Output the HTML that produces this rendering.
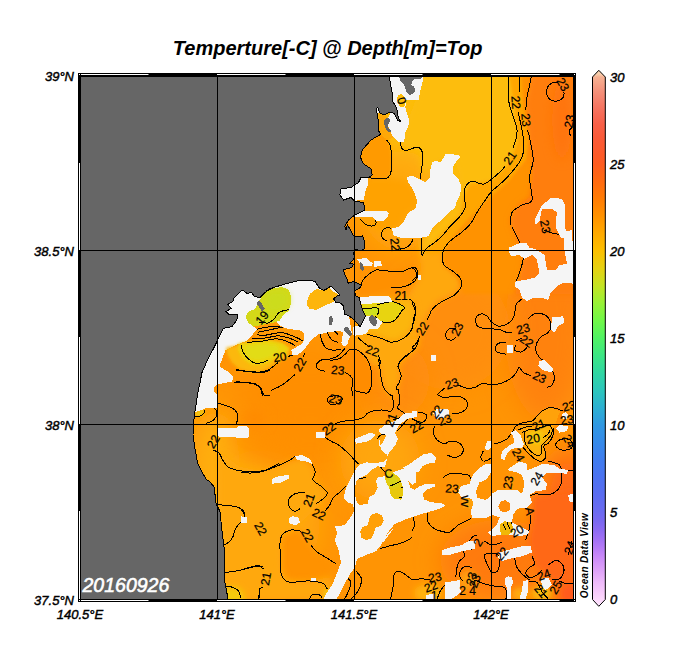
<!DOCTYPE html>
<html><head><meta charset="utf-8"><title>Temperture @ Depth=Top</title>
<style>
html,body{margin:0;padding:0;background:#fff;}
body{width:684px;height:660px;position:relative;overflow:hidden;font-family:"Liberation Sans",sans-serif;}
</style></head><body>
<svg width="684" height="660" viewBox="0 0 684 660" style="position:absolute;left:0;top:0">
<defs>
<clipPath id="pc"><rect x="81" y="77" width="492" height="522"/></clipPath>
<filter id="b12" x="-50%" y="-50%" width="200%" height="200%"><feGaussianBlur stdDeviation="12"/></filter>
<filter id="b6" x="-50%" y="-50%" width="200%" height="200%"><feGaussianBlur stdDeviation="6"/></filter>
<filter id="b3" x="-50%" y="-50%" width="200%" height="200%"><feGaussianBlur stdDeviation="3"/></filter>
<filter id="b2" x="-50%" y="-50%" width="200%" height="200%"><feGaussianBlur stdDeviation="1.6"/></filter>
<linearGradient id="cb" gradientUnits="userSpaceOnUse" x1="0" y1="606.3" x2="0" y2="70.3">
<stop offset="0.0000" stop-color="#fee6fe"/>
<stop offset="0.0127" stop-color="#fcd8fc"/>
<stop offset="0.0289" stop-color="#f6c8fb"/>
<stop offset="0.0452" stop-color="#eebafa"/>
<stop offset="0.0614" stop-color="#e2a8f8"/>
<stop offset="0.0777" stop-color="#d698f8"/>
<stop offset="0.0939" stop-color="#c888f8"/>
<stop offset="0.1102" stop-color="#b47af6"/>
<stop offset="0.1264" stop-color="#a070f4"/>
<stop offset="0.1427" stop-color="#8c6af2"/>
<stop offset="0.1589" stop-color="#7a68f0"/>
<stop offset="0.1752" stop-color="#6c6af0"/>
<stop offset="0.2077" stop-color="#5a6cf0"/>
<stop offset="0.2402" stop-color="#4c72f0"/>
<stop offset="0.2727" stop-color="#407cee"/>
<stop offset="0.3052" stop-color="#368aea"/>
<stop offset="0.3377" stop-color="#3098e2"/>
<stop offset="0.3702" stop-color="#2cb0d2"/>
<stop offset="0.4027" stop-color="#2cc6bc"/>
<stop offset="0.4352" stop-color="#30d6a2"/>
<stop offset="0.4677" stop-color="#3ce684"/>
<stop offset="0.5002" stop-color="#50f264"/>
<stop offset="0.5327" stop-color="#70f848"/>
<stop offset="0.5652" stop-color="#98f236"/>
<stop offset="0.5977" stop-color="#c4e424"/>
<stop offset="0.6302" stop-color="#e6d212"/>
<stop offset="0.6627" stop-color="#fcc000"/>
<stop offset="0.6952" stop-color="#ffaa00"/>
<stop offset="0.7277" stop-color="#ff9200"/>
<stop offset="0.7602" stop-color="#ff7c04"/>
<stop offset="0.7927" stop-color="#ff6a10"/>
<stop offset="0.8252" stop-color="#fe5c20"/>
<stop offset="0.8414" stop-color="#fd5a28"/>
<stop offset="0.8739" stop-color="#fa5a38"/>
<stop offset="0.8999" stop-color="#f86048"/>
<stop offset="0.9194" stop-color="#f66c58"/>
<stop offset="0.9389" stop-color="#f57c68"/>
<stop offset="0.9601" stop-color="#f4907a"/>
<stop offset="0.9779" stop-color="#f5a68a"/>
<stop offset="0.9877" stop-color="#f6b294"/>
<stop offset="0.9916" stop-color="#f8caa8"/>
<stop offset="1.0004" stop-color="#f8d6b4"/>
</linearGradient>
</defs>
<rect width="684" height="660" fill="#ffffff"/>
<g clip-path="url(#pc)">
<rect x="79" y="74" width="496" height="526" fill="#ff9404"/>
<ellipse cx="440" cy="130" rx="75" ry="90" fill="#fdbb0c" filter="url(#b12)"/>
<ellipse cx="470" cy="100" rx="50" ry="60" fill="#fcc010" filter="url(#b12)"/>
<ellipse cx="400" cy="200" rx="40" ry="50" fill="#ffa808" filter="url(#b12)"/>
<ellipse cx="560" cy="180" rx="40" ry="130" fill="#ff7810" filter="url(#b12)"/>
<ellipse cx="545" cy="330" rx="40" ry="90" fill="#ff820c" filter="url(#b12)"/>
<ellipse cx="568" cy="530" rx="30" ry="80" fill="#ff6814" filter="url(#b12)"/>
<ellipse cx="500" cy="560" rx="60" ry="40" fill="#ff7a10" filter="url(#b12)"/>
<ellipse cx="450" cy="330" rx="60" ry="60" fill="#ff8e08" filter="url(#b12)"/>
<ellipse cx="390" cy="380" rx="40" ry="40" fill="#ff8c08" filter="url(#b12)"/>
<ellipse cx="260" cy="520" rx="60" ry="70" fill="#ffa80a" filter="url(#b12)"/>
<ellipse cx="218" cy="545" rx="18" ry="40" fill="#ffac0c" filter="url(#b6)"/>
<ellipse cx="232" cy="596" rx="14" ry="10" fill="#f4cc0c" filter="url(#b3)"/>
<polygon points="216.1,504.6 228.9,505.6 238.7,507.6 243.7,511.5 244.6,517.4 238.7,524.3 234.8,530.2 232.8,537.1 228.9,542 224,545 222,531.2 220,511.5" fill="#fbb60c" filter="url(#b2)"/>
<polygon points="301,531.2 291,530 282.2,535 279.8,545 281,557.5 280.5,570 283.5,578.8 291,582.5 301,581.2 313.5,581.2 323.5,583.8 336,563.8 326,558.8 316,552.5 311,545" fill="#ff9204" filter="url(#b3)"/>
<ellipse cx="215" cy="470" rx="25" ry="60" fill="#ffae0c" filter="url(#b12)"/>
<ellipse cx="300" cy="440" rx="60" ry="30" fill="#ff9004" filter="url(#b12)"/>
<ellipse cx="310" cy="395" rx="70" ry="40" fill="#ff8e02" filter="url(#b12)"/>
<ellipse cx="380" cy="460" rx="40" ry="40" fill="#ffa60a" filter="url(#b12)"/>
<polygon points="195.2,412.5 199.3,410 204.3,410 204.3,413 201,415.8 195.2,416.7" fill="#f0c80a" filter="url(#b2)"/>
<ellipse cx="254" cy="419" rx="12" ry="8" fill="#ff8a04" filter="url(#b6)"/>
<polygon points="417.2,239.5 442.6,239.5 442.6,250 441.7,258.8 448.7,267.5 457.5,276.3 461,283.3 457.5,292.1 448.7,296.5 438.2,300.9 431.2,307.9 425.9,317.5 421.5,325.4 418.9,337.7 418,344.7 413.6,350 406.6,355.3 400.5,360.5 397.9,365.8 371.5,365.8 364.5,355.3 354,348.2 354,327.2 367.2,334.2 390.8,342.1 406.6,336 415.4,320.2 414.5,302.6 406.6,297.4 418.9,278.1 420.7,267.5" fill="#ffa808" filter="url(#b3)"/>
<polygon points="357.5,300.9 406.6,297.4 414.5,302.6 415.4,320.2 411.9,328.9 406.6,336 399.6,340.4 390.8,342.1 382.1,338.6 373.3,336 367.2,334.2 357.5,327.2" fill="#fcb60c" filter="url(#b3)"/>
<polygon points="359.3,288.6 364.5,278.1 375.1,270.2 389.1,271.1 403.1,268.4 413.6,266.7 416.8,272.8 412.8,279.8 404.9,284.2 396.1,286.8 387.3,289.5 371.5,293 359.3,293.9" fill="#ff9002" filter="url(#b2)"/>
<polygon points="365.5,177.7 390.1,177.7 407.6,181.2 415.5,192.6 417.3,201.4 415.5,208.4 407.6,213.7 398.9,226.8 390.1,229.5 381.3,233 362,224.2 360.3,210.2 363.8,192.6" fill="#ffa206" filter="url(#b3)"/>
<polygon points="358.5,133 384.8,133.9 390.1,145.3 391.5,157.5 391,171.6 387.5,177.7 377.8,178.9 369,177.7 363.8,169.8 358.5,157.5" fill="#ff9a04" filter="url(#b2)"/>
<ellipse cx="428" cy="593" rx="14" ry="9" fill="#ffb20c" filter="url(#b3)"/>
<ellipse cx="468" cy="580" rx="8" ry="10" fill="#ffa208" filter="url(#b3)"/>
<ellipse cx="542" cy="593" rx="10" ry="7" fill="#f8c010" filter="url(#b3)"/>
<ellipse cx="520" cy="594" rx="8" ry="6" fill="#ffb010" filter="url(#b3)"/>
<polygon points="423.3,70.7 510,70.7 510,77.3 515,107.3 520,140.7 510,164 493.3,180.7 470,184 463.3,197.3 461.7,214 443.3,234 423.3,254 421.7,240.7 430,230.7 446.7,214 458.3,197.3 460,174 453.3,157.3 440,159 423.3,174 420,150.7 401.7,145.7 406.7,124 416.7,97.3" fill="#fdbd0c" filter="url(#b3)"/>
<polygon points="510,70.7 521.7,70.7 521.7,77.3 525,107.3 530,140.7 526.7,160.7 510,180.7 490,197.3 470,217.3 453.3,237.3 443.3,254 423.3,254 443.3,234 461.7,214 463.3,197.3 470,184 493.3,180.7 510,164 520,140.7 515,107.3 510,77.3" fill="#ffa606" filter="url(#b2)"/>
<polygon points="521.7,70.7 531.7,70.7 531.7,77.3 526.7,104 530,134 533.3,174 530,197.3 516.7,207.3 510,220.7 516.7,240.7 523.3,260.7 520,280.7 513.3,294 463.3,294 456.7,277.3 445,267.3 443.3,254 453.3,237.3 470,217.3 490,197.3 510,180.7 526.7,160.7 530,140.7 525,107.3 521.7,77.3" fill="#ff9206" filter="url(#b2)"/>
<polygon points="531.7,70.7 583.3,70.7 583.3,294 513.3,294 520,280.7 523.3,260.7 516.7,240.7 510,220.7 516.7,207.3 530,197.3 533.3,174 530,134 526.7,104 531.7,77.3" fill="#ff7e0c" filter="url(#b3)"/>
<ellipse cx="562" cy="120" rx="10" ry="40" fill="#ff7408" filter="url(#b6)"/>
<polygon points="330,360.3 339.1,358.8 345.2,354.2 349.7,349.7 355,349.4 360.3,352 366.4,358 370.2,366.4 371.7,377 370.9,387.6 367.1,392.9 360.3,392.1 354.2,390.6 352.7,386.1 353,378.5 349.7,374.7 339.1,372.4 330,373.9" fill="#ff8c02" filter="url(#b2)"/>
<polygon points="378.5,358.8 380,369.4 381.5,380 384.5,389.1 390.6,395.2 393.6,401.2 397.4,395.2 395.9,388.3 398.9,383 401.2,375.5 398.2,366.4 401.2,360.3 408.8,354.2 416.4,346.7 418.6,339.1 405.8,337.6 398.2,342.1 390.6,343.6 378.5,337.6 367.9,333.8 364.8,343.6 372.4,349.7" fill="#ffa808" filter="url(#b3)"/>
<polygon points="218.3,451.7 240,466.7 266.7,471.7 290,461.7 303.3,458.3 313.3,468.3 315,480 326.7,493.3 321.7,503.3 300,523.3 280,536.7 280,566.7 286.7,580 306.7,581.7 330,576.7 333.3,600 220,600 223.3,546.7 218.3,513.3" fill="#ffa80a" filter="url(#b3)"/>
<ellipse cx="232" cy="596" rx="12" ry="9" fill="#f4cc0c" filter="url(#b3)"/>
<polygon points="532.2,497 560.1,492.2 577.1,488.5 577.1,575.9 560.1,585.6 548,575.9 535.8,566.2 532.2,554.1 528.5,541.9 532.2,520.1" fill="#ff6812" filter="url(#b3)"/>
<ellipse cx="570" cy="594" rx="10" ry="10" fill="#ff5a1c" filter="url(#b3)"/>
<polygon points="323.5,591.2 328.5,587 333,593.8 331.5,600 323.5,600" fill="#f8c010" filter="url(#b2)"/>
<polygon points="387.7,76.3 423.6,76.3 422.3,82.6 420.4,90.1 418.6,99.6 406.6,99.6 405.3,107.7 408.5,117.8 408.5,125.3 405.3,132.9 404.1,141.7 398.4,141.7 392.8,136.7 389.6,130.4 387.7,125.3 387.7,117.8 390.5,113.4 387.7,112.5 387.7,82.6" fill="#f5f5f5" shape-rendering="crispEdges"/>
<polygon points="376.7,107.7 378.3,107.2 379.7,113 377.4,113" fill="#f5f5f5" shape-rendering="crispEdges"/>
<polygon points="445.4,153.7 458.5,154.9 460.3,156.7 455.9,161.9 453.2,166.3 453.2,174.2 458.5,179.5 461.1,185.6 460.3,194.4 456.8,201.4 455,207.5 449.7,211.9 444.5,217.2 437.5,223.3 432.2,228.6 428.7,235.6 425.2,237.4 402.4,238.2 393.6,235.6 391.8,228.6 398.9,226.8 403.2,222.5 406.8,215.4 409.4,211.9 415.5,208.4 417.3,201.4 414.6,193.5 411.1,186.5 407.6,181.2 407.3,176.8 412.9,176 419.9,179.5 425.2,182.1 429.6,177.7 430.4,169.8 432.2,161.9 435.7,161.1 441,161.9 443.6,157.5" fill="#f5f5f5" shape-rendering="crispEdges"/>
<polygon points="355,211.1 386.6,211.1 388.7,213.7 387.5,217.2 383.9,220.7 376.1,220.7 372.5,217.2 355,217.2" fill="#f5f5f5" shape-rendering="crispEdges"/>
<polygon points="337.5,176.8 367.3,176.8 368.2,183.9 365.5,190.9 363.8,199.6 337.5,203.2" fill="#f5f5f5" shape-rendering="crispEdges"/>
<polygon points="550.8,197.5 562,198.8 565,205 565,225 566.5,237.5 560.8,237.5 556.5,228.8 555.8,220 557,212.5 552,208.8 542,208.8 540.8,215 539.5,221.2 535.8,225 534.5,220 537,215 542,205 547,201.2" fill="#f5f5f5" shape-rendering="crispEdges"/>
<polygon points="509.5,247.5 517,243.8 525.8,242.5 529.5,247.5 537,250 544.5,255 547,270 555.8,270 559.5,265 567,263.8 566,258.2 564.2,250 564.2,231.8 572,230 574.5,283.8 564.5,282.5 557,286.2 550.8,292.5 548.2,300 542,297.5 534.5,297.5 527,301.2 522,297.5 519.5,290 514.5,286.2 515.8,281.2 524.5,280 534.5,277.5 539.5,272.5 537,260 532,255 524.5,258.8 519.5,255 510.8,256.2 509,251.2" fill="#f5f5f5" shape-rendering="crispEdges"/>
<polygon points="552,317.5 563.2,316.2 564.5,322.5 558.2,326.2 554.5,332.5 550.8,330" fill="#f5f5f5" shape-rendering="crispEdges"/>
<polygon points="539.5,361.2 544.5,360 553.2,368.8 552,372.5 542,370 538.2,366.2" fill="#f5f5f5" shape-rendering="crispEdges"/>
<polygon points="430.8,355 436.2,355 436.2,361.2 430.8,361.2" fill="#f5f5f5" shape-rendering="crispEdges"/>
<polygon points="417.5,275 420.8,275 420.8,279.5 417.5,279.5" fill="#f5f5f5" shape-rendering="crispEdges"/>
<polygon points="507,345 513.2,345 513.2,352.5 507,352.5" fill="#f5f5f5" shape-rendering="crispEdges"/>
<polygon points="412,230 428.2,230 428.2,236.2 412,236.2" fill="#f5f5f5" shape-rendering="crispEdges"/>
<polygon points="433.2,413.8 437,408.8 448.2,408.8 449.5,413.8 444.5,417.5 435.8,418.8" fill="#f5f5f5" shape-rendering="crispEdges"/>
<polygon points="412,411.2 417,411.2 417,416.2 412,416.2" fill="#f5f5f5" shape-rendering="crispEdges"/>
<polygon points="484.5,464.5 492,463.8 492.5,470 487,478.8 479.5,482.5 475.8,491.2 477.5,498 485.8,500 492,495 492,515 487,517.5 472,518 470.8,510 473.2,505 472,498.8 462,497.5 458.2,492.5 460.8,486.2 469.5,483.8 472,476.2 477,470" fill="#f5f5f5" shape-rendering="crispEdges"/>
<polygon points="492,493.8 498.2,490 517,490 522,493.8 524.5,483.8 522,475 517,472.5 507,470 512,466.2 519.5,461.2 527,463.8 527,470 534.5,467.5 542,463.8 554.5,465 559.5,468.8 568.2,470 567,473.8 559.5,473 547,472.5 542,477.5 547,483.8 545.8,490 535.8,491.2 529.5,495 532,502.5 527,507.5 517,508.8 513.2,515 512,522.5 522,527.5 529.5,531.2 527,535 517,536.2 509.5,535 499.5,535 492,536.2 488.2,532.5 497,525 499.5,517.5 492,515" fill="#f5f5f5" shape-rendering="crispEdges"/>
<polygon points="484.5,448.8 487,441.2 492,441.2 492,447.5 487,450.5" fill="#f5f5f5" shape-rendering="crispEdges"/>
<polygon points="510.8,432.5 515.8,430 522,436.2 525.8,441.2 522,447.5 512,448.8 507,453.8 504.5,460 500.8,458.8 502,451.2 508.2,446.2 514.5,442.5 513.2,436.2" fill="#f5f5f5" shape-rendering="crispEdges"/>
<polygon points="555.8,428.8 559.5,425 568.2,426.2 567,431.2 559.5,432.5" fill="#f5f5f5" shape-rendering="crispEdges"/>
<polygon points="562,413.8 565.8,412 568.2,415 567,418.8 563.2,418.8" fill="#f5f5f5" shape-rendering="crispEdges"/>
<polygon points="568.2,495 573.2,493.8 573.2,502.5 569.5,501.2" fill="#f5f5f5" shape-rendering="crispEdges"/>
<polygon points="442,550 449.5,547.5 462,545 468.2,541.2 475.8,541.2 474.5,548.8 462,551.2 449.5,555 442.5,555" fill="#f5f5f5" shape-rendering="crispEdges"/>
<polygon points="499.5,552.5 512,548.8 522,546.2 530.8,546.2 532,552.5 522,556.2 509.5,558.8 502,561.2 498.2,557.5" fill="#f5f5f5" shape-rendering="crispEdges"/>
<polygon points="444.5,582.5 459.5,580 460.8,592.5 452,598.8 444.5,598.8" fill="#f5f5f5" shape-rendering="crispEdges"/>
<polygon points="425.8,595 434.5,593.8 434.5,598.8 425.8,598.8" fill="#f5f5f5" shape-rendering="crispEdges"/>
<polygon points="504.5,578.8 508.2,576.2 512,577.5 513.2,582.5 510.8,587.5 510.8,598.8 507,598.8 507,587.5 504.5,583.8" fill="#f5f5f5" shape-rendering="crispEdges"/>
<polygon points="523.2,581.2 528.2,580 528.2,590 525.8,598.8 519.5,598.8 522,590" fill="#f5f5f5" shape-rendering="crispEdges"/>
<polygon points="540.8,578.8 548.2,577.5 552,585 545.8,590 542,586.2" fill="#f5f5f5" shape-rendering="crispEdges"/>
<polygon points="379.5,440 380,446.1 382.1,450.9 386.5,454.4 386.5,459.3 383,461.9 375.1,463.2 366.3,462.3 359.3,464.6 354,471.6 349.6,480.4 344.9,490.9 343.9,497.9 347.9,502.3 352.6,504.4 354.9,510.2 350.5,517.2 345.3,524.2 340,526.3 334.8,526.2 337.2,532.5 334.8,540 338.5,550 341,562.5 337.2,572.5 332.2,585 326,593.8 323.5,600 336,600 341,591.2 346,581.2 351,572.5 354.8,567.5 357.2,558.8 366,555 376,551.2 381,545 388.5,532.5 396,525 381.2,545.3 387.4,533 394.4,524.2 406.7,518.9 422.5,513.7 438.2,509.3 445.3,505.8 441.8,503.2 431.2,502.3 424.2,499.6 422.5,494.4 426,490 434.7,486.5 434.7,483.9 426,483.9 418.9,486.5 414.6,490 410.2,487.4 408.4,481.2 410.2,474.2 418.9,471.6 422.5,466.3 427.7,463.7 434.7,462.8 436.1,457.5 431.2,453.2 424.2,454 417.2,458.4 410.2,463.7 404.9,468.1 397.9,470.7 391.8,472.5 399.6,477.7 403.2,487.4 402.3,498.8 400.5,499.6 394.4,498.8 390.9,495.3 389.1,487.4 386.5,483 384.7,476 377.7,477.7 376,481.2 377.7,487.4 374.2,494.4 368.9,497 368.1,504 359.3,504.9 355.8,500.5 354.9,490.9 355.8,482.1 360.2,477.7 366.3,475.1 371.6,469.8 377.7,466.3 384.7,467.2 387,459.6 387.7,454.9 390.9,450.5 395.3,445.3 397,440 398.3,440 395,433.3 398.3,426 406.7,419 417.3,416.7 416.7,412.7 405,413.3 396.7,420 385,425 378.3,430 380,433.3 386.7,435 383.3,441.7 379.3,446.7" fill="#f5f5f5" shape-rendering="crispEdges"/>
<polygon points="354.8,438.8 371,432.5 376,435 368.5,441.2 356,443.8" fill="#f5f5f5" shape-rendering="crispEdges"/>
<polygon points="403.5,467.5 412,462.5 416,462.5 416,482.5 412,485 407.2,480 404.8,473.8" fill="#f5f5f5" shape-rendering="crispEdges"/>
<polygon points="316,432 324.8,432 324.8,437.5 316,437.5" fill="#f5f5f5" shape-rendering="crispEdges"/>
<polygon points="294.8,456.2 302.2,455 309.8,458.8 312.2,463.8 304.8,461.2 297.2,460" fill="#f5f5f5" shape-rendering="crispEdges"/>
<polygon points="272.2,478.8 278.5,476.2 288.5,475 288.5,478.8 281,482.5 272.2,483.8" fill="#f5f5f5" shape-rendering="crispEdges"/>
<polygon points="288.5,518.8 292.2,516.2 298.5,517.5 299.8,522.5 296,525 289.8,523.8" fill="#f5f5f5" shape-rendering="crispEdges"/>
<polygon points="241,516.2 247.2,517.5 247.2,522.5 241,522.5" fill="#f5f5f5" shape-rendering="crispEdges"/>
<polygon points="311,577.5 316,577.5 316,581.2 311,581.2" fill="#f5f5f5" shape-rendering="crispEdges"/>
<polygon points="217.7,428.3 236,428.3 237.7,426.3 246.8,426.3 249.3,428.3 249.3,436.7 247.7,438.3 237.7,438.3 234.3,436.7 219.3,436.7 217.7,435" fill="#f5f5f5" shape-rendering="crispEdges"/>
<polygon points="189.3,345 220,345 219.7,366.7 229.3,372.5 233.5,376.7 231.8,381.7 217.7,384.2 214.3,386.7 214.3,391.7 216.8,394.2 216.8,407.5 206,408.3 196.8,411.7 189.3,411.7" fill="#f5f5f5" shape-rendering="crispEdges"/>
<polygon points="214.9,276.5 341.3,276.5 341.3,290.5 351.8,297.5 348.3,311.6 351.8,332.6 348.3,340.5 348.3,344 343.9,346.7 341.3,343.2 343,332.6 339.5,330.9 330.7,331.8 318.5,334.4 311.4,339.6 306.2,346.7 302.7,351.1 297.4,354.6 292.1,354.6 291.3,350.2 295.6,347.5 301.8,344 304.4,339.6 303.5,332.6 299.2,330 288.6,329.1 281.6,326.5 276.4,322.1 253.5,326.5 257.1,329.1 253.5,333.5 248.3,339.6 243,342.3 236,344.9 225.5,350.2 214.9,378.2" fill="#f5f5f5" shape-rendering="crispEdges"/>
<polygon points="276.7,339.6 282,338.2 283.7,341.4 279,343.5 276.4,342.3" fill="#f5f5f5" shape-rendering="crispEdges"/>
<polygon points="357.3,259.5 365.5,257.7 372.7,263.2 371.8,265.9 363.6,265.9 359.1,262.3" fill="#f5f5f5" shape-rendering="crispEdges"/>
<polygon points="373.6,261.4 380.9,260.5 381.8,265.9 374.5,266.8" fill="#f5f5f5" shape-rendering="crispEdges"/>
<polygon points="359.1,296.8 389.1,295.9 392.7,301.4 387.3,304.1 361.8,305" fill="#f5f5f5" shape-rendering="crispEdges"/>
<polygon points="363.6,312.3 374.5,310.5 380.9,315.9 381.8,323.2 378.2,328.6 369.1,329.5 365.5,334.1 353.6,335.9 352.7,326.8 361.8,325" fill="#f5f5f5" shape-rendering="crispEdges"/>
<polygon points="347.3,246.5 356.4,246.5 356.4,250.5 347.3,250.5" fill="#f5f5f5" shape-rendering="crispEdges"/>
<polygon points="398.4,95.2 401.6,93.9 404.7,97 406,102.1 404.1,106.5 400.3,107.1 397.8,103.3 397.2,98.3" fill="#fdbe08" shape-rendering="crispEdges"/>
<polygon points="379.6,114 384,115.3 387.7,117.8 387.7,125.3 390.3,131.6 393.4,137.3 387.7,140.4 380.8,134.2 378.3,130.4 378.3,120.3" fill="#ffa808" shape-rendering="crispEdges"/>
<polygon points="245.6,316.8 248.3,311.6 255.3,308.9 258.8,301.1 264.1,294 271.1,288.8 281.6,287 288.6,289.6 290.7,295.8 291.3,302.8 288.6,310.7 283.4,315.1 279.9,320.4 271.1,323.9 260.6,326.5 253.5,326.5 248.3,323" fill="#d4d818" shape-rendering="crispEdges"/>
<polygon points="267.6,292.3 279.9,289.6 287.8,293.2 288.6,302.8 283.4,309.8 274.6,313.3 267.6,311.6 264.1,302.8" fill="#ccdc1c" filter="url(#b3)"/>
<polygon points="253.5,326.5 276.4,322.1 281.6,326.5 288.6,329.1 299.2,330 303.5,332.6 304.4,339.6 301.8,344 295.6,347.5 291.3,350.2 279.9,353.7 262.3,346.7 253.5,333.5 257.1,329.1" fill="#ff9a08" shape-rendering="crispEdges"/>
<polygon points="226.1,347.8 240.7,344.9 253.9,341.9 268.5,341.9 280.2,344.1 288.9,349.2 288.9,356.5 274.3,363.9 268.5,368.2 259.7,371.9 249.5,371.9 239.2,369 231.9,362.4 227.5,355.1" fill="#fcb808" filter="url(#b2)"/>
<polygon points="238.4,343.5 253.1,341.3 270.4,340 282.4,343.1 290.1,348.4 284.1,353.5 277.3,357 270.4,361.2 261.8,364.7 251.4,364.7 242.7,358.6 238.4,350.8" fill="#ecd410" filter="url(#b2)"/>
<polygon points="245.4,346.2 260,344.3 274.6,345.1 280.2,348.9 271.1,356.3 260,359.8 250.9,358.9 245.4,353.5" fill="#e2dc14" filter="url(#b2)"/>
<polygon points="307.1,301.1 309.7,294 316.7,288.8 322,290.5 327.2,286.1 331.6,290.5 337.8,294 336,297.5 333.4,301.9 327.2,304.6 322,307.2 316.7,309.8 309.7,308.9 307.1,305.4" fill="#fdb50c" shape-rendering="crispEdges"/>
<polygon points="361.9,304.4 392.6,301.8 404,307 401.4,311.4 393.5,321.1 382.1,321.9 375.1,316.7 364.5,315.8 361.9,309.6" fill="#e8d410" shape-rendering="crispEdges"/>
<polygon points="362.8,308.8 377.7,308.2 377.7,314.6 364.5,315.3" fill="#cfe01e" shape-rendering="crispEdges"/>
<polygon points="386.5,470.7 392.6,472.5 399.6,477.7 403.2,487.4 402.3,498.8 400.5,499.6 394.4,498.8 390.9,495.3 389.1,487.4 386.5,483 384.7,477.7" fill="#e8c80c" shape-rendering="crispEdges"/>
<polygon points="370.7,515.4 376,512.8 382.1,515.4 383.9,520.7 381.2,526 375.1,527.7 374.2,533 371.6,538.2 366.3,540 361.1,537.4 360.2,531.2 362.8,526.8 368.1,525.1 368.9,519.8" fill="#ffa008" shape-rendering="crispEdges"/>
<polygon points="500.8,501.2 505.8,500 510,503.8 510,510 505.8,512.5 500.8,511.2 498.2,506.2" fill="#ff8c08" shape-rendering="crispEdges"/>
<polygon points="518.2,428.5 520.8,425.5 530.2,422.2 536.2,417.5 542.5,410.2 548.5,407 554.5,409 560,411.2 554,427.8 553.2,435 548.5,443 543.8,446 546,455.5 541.8,461 535.2,459.2 527,450.8 524.5,446.2" fill="#ffa20a" shape-rendering="crispEdges"/>
<polygon points="525.5,431.2 536.2,429 548.5,425.2 552,429 551,435 546,441 541.2,446 541.8,453.2 537.5,455.5 531.5,452 526.8,446 524.8,441" fill="#fbb40a" filter="url(#b2)"/>
<polygon points="529.5,432.5 537,430 543.2,432 542.5,440 538.2,445 533.2,443.8 529.5,438.8" fill="#f6c808" filter="url(#b2)"/>
<polygon points="499.5,525 504.5,521.2 512,522.5 513.2,531.2 508.2,535.5 500.8,534.5" fill="#f0b808" shape-rendering="crispEdges"/>
<polygon points="462,498 472,498.8 473.2,505 470.8,508.8 463.2,507.5" fill="#ffa00a" shape-rendering="crispEdges"/>
<polygon points="387.4,477.7 392.6,476 397.9,479.5 399.6,485.6 392.6,488.2 389.1,484.7" fill="#d8d414" filter="url(#b2)"/>
<mask id="cm" maskUnits="userSpaceOnUse" x="0" y="0" width="684" height="660"><rect width="684" height="660" fill="#fff"/><polygon points="387.7,76.3 423.6,76.3 422.3,82.6 420.4,90.1 418.6,99.6 406.6,99.6 405.3,107.7 408.5,117.8 408.5,125.3 405.3,132.9 404.1,141.7 398.4,141.7 392.8,136.7 389.6,130.4 387.7,125.3 387.7,117.8 390.5,113.4 387.7,112.5 387.7,82.6" fill="#000" shape-rendering="crispEdges"/><polygon points="376.7,107.7 378.3,107.2 379.7,113 377.4,113" fill="#000" shape-rendering="crispEdges"/><polygon points="445.4,153.7 458.5,154.9 460.3,156.7 455.9,161.9 453.2,166.3 453.2,174.2 458.5,179.5 461.1,185.6 460.3,194.4 456.8,201.4 455,207.5 449.7,211.9 444.5,217.2 437.5,223.3 432.2,228.6 428.7,235.6 425.2,237.4 402.4,238.2 393.6,235.6 391.8,228.6 398.9,226.8 403.2,222.5 406.8,215.4 409.4,211.9 415.5,208.4 417.3,201.4 414.6,193.5 411.1,186.5 407.6,181.2 407.3,176.8 412.9,176 419.9,179.5 425.2,182.1 429.6,177.7 430.4,169.8 432.2,161.9 435.7,161.1 441,161.9 443.6,157.5" fill="#000" shape-rendering="crispEdges"/><polygon points="355,211.1 386.6,211.1 388.7,213.7 387.5,217.2 383.9,220.7 376.1,220.7 372.5,217.2 355,217.2" fill="#000" shape-rendering="crispEdges"/><polygon points="337.5,176.8 367.3,176.8 368.2,183.9 365.5,190.9 363.8,199.6 337.5,203.2" fill="#000" shape-rendering="crispEdges"/><polygon points="550.8,197.5 562,198.8 565,205 565,225 566.5,237.5 560.8,237.5 556.5,228.8 555.8,220 557,212.5 552,208.8 542,208.8 540.8,215 539.5,221.2 535.8,225 534.5,220 537,215 542,205 547,201.2" fill="#000" shape-rendering="crispEdges"/><polygon points="509.5,247.5 517,243.8 525.8,242.5 529.5,247.5 537,250 544.5,255 547,270 555.8,270 559.5,265 567,263.8 566,258.2 564.2,250 564.2,231.8 572,230 574.5,283.8 564.5,282.5 557,286.2 550.8,292.5 548.2,300 542,297.5 534.5,297.5 527,301.2 522,297.5 519.5,290 514.5,286.2 515.8,281.2 524.5,280 534.5,277.5 539.5,272.5 537,260 532,255 524.5,258.8 519.5,255 510.8,256.2 509,251.2" fill="#000" shape-rendering="crispEdges"/><polygon points="552,317.5 563.2,316.2 564.5,322.5 558.2,326.2 554.5,332.5 550.8,330" fill="#000" shape-rendering="crispEdges"/><polygon points="539.5,361.2 544.5,360 553.2,368.8 552,372.5 542,370 538.2,366.2" fill="#000" shape-rendering="crispEdges"/><polygon points="430.8,355 436.2,355 436.2,361.2 430.8,361.2" fill="#000" shape-rendering="crispEdges"/><polygon points="417.5,275 420.8,275 420.8,279.5 417.5,279.5" fill="#000" shape-rendering="crispEdges"/><polygon points="507,345 513.2,345 513.2,352.5 507,352.5" fill="#000" shape-rendering="crispEdges"/><polygon points="412,230 428.2,230 428.2,236.2 412,236.2" fill="#000" shape-rendering="crispEdges"/><polygon points="433.2,413.8 437,408.8 448.2,408.8 449.5,413.8 444.5,417.5 435.8,418.8" fill="#000" shape-rendering="crispEdges"/><polygon points="412,411.2 417,411.2 417,416.2 412,416.2" fill="#000" shape-rendering="crispEdges"/><polygon points="484.5,464.5 492,463.8 492.5,470 487,478.8 479.5,482.5 475.8,491.2 477.5,498 485.8,500 492,495 492,515 487,517.5 472,518 470.8,510 473.2,505 472,498.8 462,497.5 458.2,492.5 460.8,486.2 469.5,483.8 472,476.2 477,470" fill="#000" shape-rendering="crispEdges"/><polygon points="492,493.8 498.2,490 517,490 522,493.8 524.5,483.8 522,475 517,472.5 507,470 512,466.2 519.5,461.2 527,463.8 527,470 534.5,467.5 542,463.8 554.5,465 559.5,468.8 568.2,470 567,473.8 559.5,473 547,472.5 542,477.5 547,483.8 545.8,490 535.8,491.2 529.5,495 532,502.5 527,507.5 517,508.8 513.2,515 512,522.5 522,527.5 529.5,531.2 527,535 517,536.2 509.5,535 499.5,535 492,536.2 488.2,532.5 497,525 499.5,517.5 492,515" fill="#000" shape-rendering="crispEdges"/><polygon points="484.5,448.8 487,441.2 492,441.2 492,447.5 487,450.5" fill="#000" shape-rendering="crispEdges"/><polygon points="510.8,432.5 515.8,430 522,436.2 525.8,441.2 522,447.5 512,448.8 507,453.8 504.5,460 500.8,458.8 502,451.2 508.2,446.2 514.5,442.5 513.2,436.2" fill="#000" shape-rendering="crispEdges"/><polygon points="555.8,428.8 559.5,425 568.2,426.2 567,431.2 559.5,432.5" fill="#000" shape-rendering="crispEdges"/><polygon points="562,413.8 565.8,412 568.2,415 567,418.8 563.2,418.8" fill="#000" shape-rendering="crispEdges"/><polygon points="568.2,495 573.2,493.8 573.2,502.5 569.5,501.2" fill="#000" shape-rendering="crispEdges"/><polygon points="442,550 449.5,547.5 462,545 468.2,541.2 475.8,541.2 474.5,548.8 462,551.2 449.5,555 442.5,555" fill="#000" shape-rendering="crispEdges"/><polygon points="499.5,552.5 512,548.8 522,546.2 530.8,546.2 532,552.5 522,556.2 509.5,558.8 502,561.2 498.2,557.5" fill="#000" shape-rendering="crispEdges"/><polygon points="444.5,582.5 459.5,580 460.8,592.5 452,598.8 444.5,598.8" fill="#000" shape-rendering="crispEdges"/><polygon points="425.8,595 434.5,593.8 434.5,598.8 425.8,598.8" fill="#000" shape-rendering="crispEdges"/><polygon points="504.5,578.8 508.2,576.2 512,577.5 513.2,582.5 510.8,587.5 510.8,598.8 507,598.8 507,587.5 504.5,583.8" fill="#000" shape-rendering="crispEdges"/><polygon points="523.2,581.2 528.2,580 528.2,590 525.8,598.8 519.5,598.8 522,590" fill="#000" shape-rendering="crispEdges"/><polygon points="540.8,578.8 548.2,577.5 552,585 545.8,590 542,586.2" fill="#000" shape-rendering="crispEdges"/><polygon points="379.5,440 380,446.1 382.1,450.9 386.5,454.4 386.5,459.3 383,461.9 375.1,463.2 366.3,462.3 359.3,464.6 354,471.6 349.6,480.4 344.9,490.9 343.9,497.9 347.9,502.3 352.6,504.4 354.9,510.2 350.5,517.2 345.3,524.2 340,526.3 334.8,526.2 337.2,532.5 334.8,540 338.5,550 341,562.5 337.2,572.5 332.2,585 326,593.8 323.5,600 336,600 341,591.2 346,581.2 351,572.5 354.8,567.5 357.2,558.8 366,555 376,551.2 381,545 388.5,532.5 396,525 381.2,545.3 387.4,533 394.4,524.2 406.7,518.9 422.5,513.7 438.2,509.3 445.3,505.8 441.8,503.2 431.2,502.3 424.2,499.6 422.5,494.4 426,490 434.7,486.5 434.7,483.9 426,483.9 418.9,486.5 414.6,490 410.2,487.4 408.4,481.2 410.2,474.2 418.9,471.6 422.5,466.3 427.7,463.7 434.7,462.8 436.1,457.5 431.2,453.2 424.2,454 417.2,458.4 410.2,463.7 404.9,468.1 397.9,470.7 391.8,472.5 399.6,477.7 403.2,487.4 402.3,498.8 400.5,499.6 394.4,498.8 390.9,495.3 389.1,487.4 386.5,483 384.7,476 377.7,477.7 376,481.2 377.7,487.4 374.2,494.4 368.9,497 368.1,504 359.3,504.9 355.8,500.5 354.9,490.9 355.8,482.1 360.2,477.7 366.3,475.1 371.6,469.8 377.7,466.3 384.7,467.2 387,459.6 387.7,454.9 390.9,450.5 395.3,445.3 397,440 398.3,440 395,433.3 398.3,426 406.7,419 417.3,416.7 416.7,412.7 405,413.3 396.7,420 385,425 378.3,430 380,433.3 386.7,435 383.3,441.7 379.3,446.7" fill="#000" shape-rendering="crispEdges"/><polygon points="354.8,438.8 371,432.5 376,435 368.5,441.2 356,443.8" fill="#000" shape-rendering="crispEdges"/><polygon points="403.5,467.5 412,462.5 416,462.5 416,482.5 412,485 407.2,480 404.8,473.8" fill="#000" shape-rendering="crispEdges"/><polygon points="316,432 324.8,432 324.8,437.5 316,437.5" fill="#000" shape-rendering="crispEdges"/><polygon points="294.8,456.2 302.2,455 309.8,458.8 312.2,463.8 304.8,461.2 297.2,460" fill="#000" shape-rendering="crispEdges"/><polygon points="272.2,478.8 278.5,476.2 288.5,475 288.5,478.8 281,482.5 272.2,483.8" fill="#000" shape-rendering="crispEdges"/><polygon points="288.5,518.8 292.2,516.2 298.5,517.5 299.8,522.5 296,525 289.8,523.8" fill="#000" shape-rendering="crispEdges"/><polygon points="241,516.2 247.2,517.5 247.2,522.5 241,522.5" fill="#000" shape-rendering="crispEdges"/><polygon points="311,577.5 316,577.5 316,581.2 311,581.2" fill="#000" shape-rendering="crispEdges"/><polygon points="217.7,428.3 236,428.3 237.7,426.3 246.8,426.3 249.3,428.3 249.3,436.7 247.7,438.3 237.7,438.3 234.3,436.7 219.3,436.7 217.7,435" fill="#000" shape-rendering="crispEdges"/><polygon points="189.3,345 220,345 219.7,366.7 229.3,372.5 233.5,376.7 231.8,381.7 217.7,384.2 214.3,386.7 214.3,391.7 216.8,394.2 216.8,407.5 206,408.3 196.8,411.7 189.3,411.7" fill="#000" shape-rendering="crispEdges"/><polygon points="214.9,276.5 341.3,276.5 341.3,290.5 351.8,297.5 348.3,311.6 351.8,332.6 348.3,340.5 348.3,344 343.9,346.7 341.3,343.2 343,332.6 339.5,330.9 330.7,331.8 318.5,334.4 311.4,339.6 306.2,346.7 302.7,351.1 297.4,354.6 292.1,354.6 291.3,350.2 295.6,347.5 301.8,344 304.4,339.6 303.5,332.6 299.2,330 288.6,329.1 281.6,326.5 276.4,322.1 253.5,326.5 257.1,329.1 253.5,333.5 248.3,339.6 243,342.3 236,344.9 225.5,350.2 214.9,378.2" fill="#000" shape-rendering="crispEdges"/><polygon points="276.7,339.6 282,338.2 283.7,341.4 279,343.5 276.4,342.3" fill="#000" shape-rendering="crispEdges"/><polygon points="357.3,259.5 365.5,257.7 372.7,263.2 371.8,265.9 363.6,265.9 359.1,262.3" fill="#000" shape-rendering="crispEdges"/><polygon points="373.6,261.4 380.9,260.5 381.8,265.9 374.5,266.8" fill="#000" shape-rendering="crispEdges"/><polygon points="359.1,296.8 389.1,295.9 392.7,301.4 387.3,304.1 361.8,305" fill="#000" shape-rendering="crispEdges"/><polygon points="363.6,312.3 374.5,310.5 380.9,315.9 381.8,323.2 378.2,328.6 369.1,329.5 365.5,334.1 353.6,335.9 352.7,326.8 361.8,325" fill="#000" shape-rendering="crispEdges"/><polygon points="347.3,246.5 356.4,246.5 356.4,250.5 347.3,250.5" fill="#000" shape-rendering="crispEdges"/><polygon points="398.4,95.2 401.6,93.9 404.7,97 406,102.1 404.1,106.5 400.3,107.1 397.8,103.3 397.2,98.3" fill="#fff" shape-rendering="crispEdges"/><polygon points="379.6,114 384,115.3 387.7,117.8 387.7,125.3 390.3,131.6 393.4,137.3 387.7,140.4 380.8,134.2 378.3,130.4 378.3,120.3" fill="#fff" shape-rendering="crispEdges"/><polygon points="245.6,316.8 248.3,311.6 255.3,308.9 258.8,301.1 264.1,294 271.1,288.8 281.6,287 288.6,289.6 290.7,295.8 291.3,302.8 288.6,310.7 283.4,315.1 279.9,320.4 271.1,323.9 260.6,326.5 253.5,326.5 248.3,323" fill="#fff" shape-rendering="crispEdges"/><polygon points="267.6,292.3 279.9,289.6 287.8,293.2 288.6,302.8 283.4,309.8 274.6,313.3 267.6,311.6 264.1,302.8" fill="#fff" shape-rendering="crispEdges"/><polygon points="253.5,326.5 276.4,322.1 281.6,326.5 288.6,329.1 299.2,330 303.5,332.6 304.4,339.6 301.8,344 295.6,347.5 291.3,350.2 279.9,353.7 262.3,346.7 253.5,333.5 257.1,329.1" fill="#fff" shape-rendering="crispEdges"/><polygon points="226.1,347.8 240.7,344.9 253.9,341.9 268.5,341.9 280.2,344.1 288.9,349.2 288.9,356.5 274.3,363.9 268.5,368.2 259.7,371.9 249.5,371.9 239.2,369 231.9,362.4 227.5,355.1" fill="#fff" shape-rendering="crispEdges"/><polygon points="238.4,343.5 253.1,341.3 270.4,340 282.4,343.1 290.1,348.4 284.1,353.5 277.3,357 270.4,361.2 261.8,364.7 251.4,364.7 242.7,358.6 238.4,350.8" fill="#fff" shape-rendering="crispEdges"/><polygon points="245.4,346.2 260,344.3 274.6,345.1 280.2,348.9 271.1,356.3 260,359.8 250.9,358.9 245.4,353.5" fill="#fff" shape-rendering="crispEdges"/><polygon points="307.1,301.1 309.7,294 316.7,288.8 322,290.5 327.2,286.1 331.6,290.5 337.8,294 336,297.5 333.4,301.9 327.2,304.6 322,307.2 316.7,309.8 309.7,308.9 307.1,305.4" fill="#fff" shape-rendering="crispEdges"/><polygon points="361.9,304.4 392.6,301.8 404,307 401.4,311.4 393.5,321.1 382.1,321.9 375.1,316.7 364.5,315.8 361.9,309.6" fill="#fff" shape-rendering="crispEdges"/><polygon points="362.8,308.8 377.7,308.2 377.7,314.6 364.5,315.3" fill="#fff" shape-rendering="crispEdges"/><polygon points="386.5,470.7 392.6,472.5 399.6,477.7 403.2,487.4 402.3,498.8 400.5,499.6 394.4,498.8 390.9,495.3 389.1,487.4 386.5,483 384.7,477.7" fill="#fff" shape-rendering="crispEdges"/><polygon points="370.7,515.4 376,512.8 382.1,515.4 383.9,520.7 381.2,526 375.1,527.7 374.2,533 371.6,538.2 366.3,540 361.1,537.4 360.2,531.2 362.8,526.8 368.1,525.1 368.9,519.8" fill="#fff" shape-rendering="crispEdges"/><polygon points="500.8,501.2 505.8,500 510,503.8 510,510 505.8,512.5 500.8,511.2 498.2,506.2" fill="#fff" shape-rendering="crispEdges"/><polygon points="518.2,428.5 520.8,425.5 530.2,422.2 536.2,417.5 542.5,410.2 548.5,407 554.5,409 560,411.2 554,427.8 553.2,435 548.5,443 543.8,446 546,455.5 541.8,461 535.2,459.2 527,450.8 524.5,446.2" fill="#fff" shape-rendering="crispEdges"/><polygon points="525.5,431.2 536.2,429 548.5,425.2 552,429 551,435 546,441 541.2,446 541.8,453.2 537.5,455.5 531.5,452 526.8,446 524.8,441" fill="#fff" shape-rendering="crispEdges"/><polygon points="529.5,432.5 537,430 543.2,432 542.5,440 538.2,445 533.2,443.8 529.5,438.8" fill="#fff" shape-rendering="crispEdges"/><polygon points="499.5,525 504.5,521.2 512,522.5 513.2,531.2 508.2,535.5 500.8,534.5" fill="#fff" shape-rendering="crispEdges"/><polygon points="462,498 472,498.8 473.2,505 470.8,508.8 463.2,507.5" fill="#fff" shape-rendering="crispEdges"/><polygon points="387.4,477.7 392.6,476 397.9,479.5 399.6,485.6 392.6,488.2 389.1,484.7" fill="#fff" shape-rendering="crispEdges"/></mask>
<g mask="url(#cm)">
<path d="M508.2,76.2 C508.3,80.6 507.5,93.5 509,102.5 C510.5,111.5 516.3,122.5 517,130 C517.7,137.5 513.8,144.6 513.2,147.5" fill="none" stroke="#000" stroke-width="1" shape-rendering="crispEdges"/>
<path d="M505,166.2 C504.3,167.0 504.2,168.3 500.8,171.2 C497.4,174.1 489.3,182.1 484.5,183.8 C479.7,185.5 475.3,180.4 472,181.2 C468.7,182.0 465.7,185.7 464.5,188.8 C463.3,191.9 464.9,198.1 465,200" fill="none" stroke="#000" stroke-width="1" shape-rendering="crispEdges"/>
<path d="M520,76.2 L519.5,92.5" fill="none" stroke="#000" stroke-width="1" shape-rendering="crispEdges"/>
<path d="M518.2,112.5 C519.0,116.7 522.6,130.0 523.2,137.5 C523.8,145.0 524.7,150.8 522,157.5 C519.3,164.2 512.0,171.9 507,177.5 C502.0,183.1 495.6,187.4 492,191.2 C488.4,194.9 486.3,198.5 485.2,200" fill="none" stroke="#000" stroke-width="1" shape-rendering="crispEdges"/>
<path d="M531.5,76.2 C530.8,79.8 528.0,91.9 527,97.5 C526.0,103.1 526.0,107.9 525.8,110" fill="none" stroke="#000" stroke-width="1" shape-rendering="crispEdges"/>
<path d="M527.5,130 C527.8,131.2 528.5,132.5 529.5,137.5 C530.5,142.5 533.2,153.3 533.2,160 C533.2,166.7 529.7,170.8 529.5,177.5 C529.3,184.2 533.2,195.4 532,200 C530.8,204.6 525.3,202.9 522,205 C518.7,207.1 513.9,209.2 512,212.5 C510.1,215.8 511.0,222.9 510.8,225" fill="none" stroke="#000" stroke-width="1" shape-rendering="crispEdges"/>
<path d="M558.2,82.5 C557.2,82.6 553.9,82.0 552,83 C550.1,84.0 547.6,86.4 547,88.8 C546.4,91.2 546.7,95.4 548.2,97.5 C549.7,99.6 553.3,101.2 555.8,101.2 C558.3,101.2 561.8,99.0 563.2,97.5 C564.6,96.0 563.9,93.3 564,92.5" fill="none" stroke="#000" stroke-width="1" shape-rendering="crispEdges"/>
<path d="M572,127.5 C571.5,128.1 569.2,129.8 569,131.2 C568.8,132.6 570.5,135.4 570.8,136.2" fill="none" stroke="#000" stroke-width="1" shape-rendering="crispEdges"/>
<path d="M464.2,200 C464.4,201.2 466.5,204.1 465.6,207 C464.7,209.9 461.5,214.3 458.9,217.5 C456.3,220.7 453.1,223.1 450.2,226.3 C447.3,229.5 444.3,233.9 441.4,236.8 C438.5,239.7 435.2,241.9 432.6,243.9 C430.0,245.9 427.4,247.2 425.6,249.1 C423.9,251.0 422.7,255.9 422.1,255.3 C421.5,254.7 421.9,248.4 421.8,245.6 C421.8,242.8 421.8,239.4 421.8,238.2" fill="none" stroke="#000" stroke-width="1" shape-rendering="crispEdges"/>
<path d="M485.3,200 C484.1,201.8 480.6,206.7 478.2,210.5 C475.8,214.3 473.8,219.3 471.2,222.8 C468.6,226.3 465.7,228.8 462.5,231.6 C459.3,234.4 454.8,236.9 451.9,239.5 C449.0,242.1 446.5,244.6 444.9,247.4 C443.3,250.2 442.4,253.2 442.3,256.1 C442.2,259.0 442.1,262.3 444,264.9 C445.9,267.5 450.9,269.6 453.7,271.9 C456.5,274.2 459.5,276.3 460.7,278.9 C461.9,281.5 461.9,284.9 460.7,287.7 C459.5,290.5 456.9,293.2 453.7,295.6 C450.5,298.0 444.9,299.6 441.4,301.8 C437.9,304.0 434.7,306.5 432.6,308.8 C430.6,311.1 429.7,314.6 429.1,315.8" fill="none" stroke="#000" stroke-width="1" shape-rendering="crispEdges"/>
<path d="M390.5,228.1 C389.6,228.1 386.8,227.4 385.3,228.1 C383.9,228.8 382.3,230.9 381.8,232.5 C381.3,234.1 381.2,236.2 382.1,237.7 C383.0,239.1 386.2,240.6 387,241.2" fill="none" stroke="#000" stroke-width="1" shape-rendering="crispEdges"/>
<path d="M400.2,249.1 C401.2,248.8 404.6,248.3 406.3,247.4 C408.1,246.5 409.5,245.4 410.7,243.9 C411.9,242.4 412.9,239.5 413.3,238.6" fill="none" stroke="#000" stroke-width="1" shape-rendering="crispEdges"/>
<path d="M380,270.2 C381.5,270.4 385.3,270.8 388.8,271.1 C392.3,271.4 397.6,272.3 401.1,271.9 C404.6,271.4 407.5,269.1 409.8,268.4 C412.1,267.7 413.8,266.6 415.1,267.5 C416.4,268.4 417.7,271.5 417.7,273.7 C417.7,275.9 417.0,278.6 415.1,280.7 C413.2,282.8 409.2,284.8 406.3,286 C403.4,287.2 400.1,287.4 397.5,287.7 C394.9,288.0 391.7,287.7 390.5,287.7" fill="none" stroke="#000" stroke-width="1" shape-rendering="crispEdges"/>
<path d="M409.8,299.1 C410.5,299.8 413.2,301.6 414.2,303.5 C415.2,305.4 416.0,308.4 416,310.5 C416.0,312.6 414.5,314.9 414.2,315.8" fill="none" stroke="#000" stroke-width="1" shape-rendering="crispEdges"/>
<path d="M386.6,140 C387.2,140.9 389.3,142.4 390.1,145.3 C390.9,148.2 391.4,153.1 391.5,157.5 C391.6,161.9 391.7,168.2 391,171.6 C390.3,175.0 389.7,176.5 387.5,177.7 C385.3,178.9 380.9,178.9 377.8,178.9 C374.7,178.9 370.5,177.9 369,177.7" fill="none" stroke="#000" stroke-width="1" shape-rendering="crispEdges"/>
<path d="M400.3,141.7 C400.5,142.8 400.8,146.5 401.6,148 C402.4,149.5 403.8,150.3 405.3,150.5 C406.8,150.7 408.7,149.7 410.4,149.2 C412.1,148.7 413.8,147.6 415.4,147.4 C417.0,147.2 418.6,147.3 419.8,148 C421.0,148.7 421.9,151.2 422.3,151.8" fill="none" stroke="#000" stroke-width="1" shape-rendering="crispEdges"/>
<path d="M415.5,147.4 C416.3,147.6 419.1,147.3 420.3,148.4 C421.5,149.5 422.2,151.0 422.5,154 C422.8,157.0 422.4,162.1 422,166.3 C421.6,170.6 420.2,177.3 419.9,179.5" fill="none" stroke="#000" stroke-width="1" shape-rendering="crispEdges"/>
<path d="M360.3,218.9 C361.2,219.8 363.5,223.0 365.5,224.2 C367.5,225.4 370.7,226.3 372.5,226 C374.3,225.7 375.8,224.0 376.1,222.5 C376.4,221.0 374.6,218.1 374.3,217.2" fill="none" stroke="#000" stroke-width="1" shape-rendering="crispEdges"/>
<path d="M429,315.8 L427,320" fill="none" stroke="#000" stroke-width="1" shape-rendering="crispEdges"/>
<path d="M419.5,336.2 C419.1,337.2 418.2,340.6 417,342.5 C415.8,344.4 412.8,346.7 412,347.5" fill="none" stroke="#000" stroke-width="1" shape-rendering="crispEdges"/>
<path d="M412,267.5 C412.6,268.1 415.1,269.8 415.8,271.2 C416.6,272.6 417.1,274.5 416.5,276.2 C415.9,277.9 412.8,280.4 412,281.2" fill="none" stroke="#000" stroke-width="1" shape-rendering="crispEdges"/>
<path d="M412,302.5 C412.5,303.8 414.6,307.1 415,310 C415.4,312.9 415.0,317.5 414.5,320 C414.0,322.5 412.4,324.2 412,325" fill="none" stroke="#000" stroke-width="1" shape-rendering="crispEdges"/>
<path d="M512,227.5 C513.2,229.8 517.1,236.2 519,241.2 C520.9,246.2 523.1,252.3 523.2,257.5 C523.3,262.7 520.7,268.3 519.5,272.5 C518.3,276.7 516.4,280.8 515.8,282.5" fill="none" stroke="#000" stroke-width="1" shape-rendering="crispEdges"/>
<path d="M522,298.8 C521.0,299.8 517.0,302.3 515.8,305 C514.5,307.7 515.5,312.1 514.5,315 C513.5,317.9 512.0,320.6 509.5,322.5 C507.0,324.4 502.4,326.2 499.5,326.2 C496.6,326.2 494.1,324.2 492,322.5 C489.9,320.8 488.7,317.6 487,316.2 C485.3,314.8 483.7,313.8 482,313.8 C480.3,313.8 478.0,314.8 477,316.2 C476.0,317.6 475.4,320.6 475.8,322.5 C476.2,324.4 476.8,326.4 479.5,327.5 C482.2,328.6 488.4,328.4 492,328.8 C495.6,329.2 498.3,329.4 500.8,330 C503.3,330.6 505.1,332.2 507,332.5 C508.9,332.8 511.2,332.1 512,332" fill="none" stroke="#000" stroke-width="1" shape-rendering="crispEdges"/>
<path d="M528.2,318.8 C529.2,318.0 532.2,314.6 534.5,313.8 C536.8,313.0 539.7,313.2 542,313.8 C544.3,314.4 546.7,315.4 548.2,317.5 C549.7,319.6 550.8,323.7 550.8,326.2 C550.8,328.7 549.7,330.8 548.2,332.5 C546.7,334.2 543.9,334.5 542,336.2 C540.1,337.9 538.0,340.2 537,342.5 C536.0,344.8 535.4,347.5 535.8,350 C536.2,352.5 537.8,355.4 539.5,357.5 C541.2,359.6 543.7,360.4 545.8,362.5 C547.9,364.6 550.5,367.5 552,370 C553.5,372.5 554.5,375.0 554.5,377.5 C554.5,380.0 553.2,383.3 552,385 C550.8,386.7 547.8,387.1 547,387.5" fill="none" stroke="#000" stroke-width="1" shape-rendering="crispEdges"/>
<path d="M544.5,230 C545.8,230.5 548.7,232.1 552,233 C555.3,233.9 562.4,235.1 564.5,235.5" fill="none" stroke="#000" stroke-width="1" shape-rendering="crispEdges"/>
<path d="M455.8,328.8 C454.8,328.8 451.2,328.0 449.5,328.8 C447.8,329.6 446.2,332.1 445.8,333.8 C445.4,335.5 446.0,337.8 447,338.8 C448.0,339.8 450.5,340.2 452,340 C453.5,339.8 455.2,337.9 455.8,337.5" fill="none" stroke="#000" stroke-width="1" shape-rendering="crispEdges"/>
<path d="M515.8,341.2 L522,338" fill="none" stroke="#000" stroke-width="1" shape-rendering="crispEdges"/>
<path d="M515.8,345 C515.6,345.8 513.7,348.8 514.5,350 C515.3,351.2 518.9,352.2 520.8,352 C522.7,351.8 524.6,350.1 525.8,348.8 C527.0,347.6 527.8,345.2 528.2,344.5" fill="none" stroke="#000" stroke-width="1" shape-rendering="crispEdges"/>
<path d="M505.8,343 C504.8,343.0 501.2,342.5 499.5,343 C497.8,343.5 496.2,344.7 495.8,346.2 C495.4,347.7 495.3,350.7 497,352 C498.7,353.3 504.3,353.8 505.8,354.2" fill="none" stroke="#000" stroke-width="1" shape-rendering="crispEdges"/>
<path d="M437,395 L444.5,388" fill="none" stroke="#000" stroke-width="1" shape-rendering="crispEdges"/>
<path d="M458.2,385 C459.5,385.5 463.1,387.6 465.8,388 C468.5,388.4 471.8,388.2 474.5,387.5 C477.2,386.8 479.1,384.3 482,383.8 C484.9,383.3 488.7,384.6 492,384.5 C495.3,384.4 498.7,384.2 502,383 C505.3,381.8 509.5,379.5 512,377.5 C514.5,375.5 515.8,372.9 517,371.2 C518.2,369.5 518.5,367.3 519.5,367.5 C520.5,367.7 521.3,371.2 523.2,372.5 C525.1,373.8 529.5,375.0 530.8,375.5" fill="none" stroke="#000" stroke-width="1" shape-rendering="crispEdges"/>
<path d="M438.2,395 C439.2,395.4 441.4,397.3 444.5,397.5 C447.6,397.7 453.4,395.8 457,396.2 C460.6,396.6 464.1,398.1 465.8,400 C467.5,401.9 467.8,405.4 467,407.5 C466.2,409.6 463.3,411.4 460.8,412.5 C458.3,413.6 453.5,413.6 452,413.8" fill="none" stroke="#000" stroke-width="1" shape-rendering="crispEdges"/>
<path d="M434.5,426.2 C434.3,427.2 432.8,430.2 433.2,432.5 C433.6,434.8 435.1,438.1 437,440 C438.9,441.9 442.4,443.6 444.5,443.8 C446.6,444.0 447.2,441.4 449.5,441.2 C451.8,441.0 455.9,441.2 458.2,442.5 C460.5,443.8 462.8,446.7 463.2,448.8 C463.6,450.9 462.2,453.6 460.8,455 C459.4,456.4 456.8,457.5 454.5,457.5 C452.2,457.5 448.2,455.4 447,455" fill="none" stroke="#000" stroke-width="1" shape-rendering="crispEdges"/>
<path d="M412,418.8 L419.5,422.5" fill="none" stroke="#000" stroke-width="1" shape-rendering="crispEdges"/>
<path d="M494.5,443.8 C495.3,443.6 497.4,443.3 499.5,442.5 C501.6,441.7 504.9,440.5 507,438.8 C509.1,437.1 510.5,434.6 512,432.5 C513.5,430.4 513.9,427.9 515.8,426.2 C517.7,424.5 520.5,423.3 523.2,422.5 C525.9,421.7 529.7,422.2 532,421.2 C534.3,420.1 535.3,417.9 537,416.2 C538.7,414.5 539.9,412.6 542,411.2 C544.1,409.8 547.0,407.9 549.5,407.5 C552.0,407.1 554.7,408.2 557,408.8 C559.3,409.4 562.2,410.8 563.2,411.2" fill="none" stroke="#000" stroke-width="1" shape-rendering="crispEdges"/>
<path d="M483.2,451.2 C482.8,452.2 480.6,455.8 480.8,457.5 C481.0,459.2 482.6,461.2 484.5,461.2 C486.4,461.2 490.8,458.1 492,457.5" fill="none" stroke="#000" stroke-width="1" shape-rendering="crispEdges"/>
<path d="M555.8,443.8 C556.2,442.6 557.6,440.8 559.5,440 C561.4,439.2 564.9,438.4 567,438.8 C569.1,439.2 571.4,440.8 572,442.5 C572.6,444.2 572.5,447.6 570.8,448.8 C569.1,450.1 564.3,450.2 562,450 C559.7,449.8 558.0,448.5 557,447.5 C556.0,446.5 555.4,445.1 555.8,443.8Z" fill="none" stroke="#000" stroke-width="1" shape-rendering="crispEdges"/>
<path d="M443.2,477.5 C444.2,476.9 446.8,474.4 449.5,473.8 C452.2,473.2 456.4,473.6 459.5,473.8 C462.6,474.0 466.3,474.2 468.2,475 C470.1,475.8 470.4,478.2 470.8,478.8" fill="none" stroke="#000" stroke-width="1" shape-rendering="crispEdges"/>
<path d="M427,512.5 C427.2,514.2 426.9,519.8 428.2,522.5 C429.4,525.2 431.8,527.2 434.5,528.8 C437.2,530.4 442.0,531.4 444.5,532 C447.0,532.6 447.2,533.7 449.5,532.5 C451.8,531.3 455.5,526.9 458.2,525 C460.9,523.1 463.7,522.2 465.8,521.2 C467.9,520.2 470.0,519.2 470.8,518.8" fill="none" stroke="#000" stroke-width="1" shape-rendering="crispEdges"/>
<path d="M412,531.2 C412.4,530.2 414.3,527.3 414.5,525 C414.7,522.7 413.6,519.2 413.2,517.5 C412.8,515.8 412.2,515.4 412,515" fill="none" stroke="#000" stroke-width="1" shape-rendering="crispEdges"/>
<path d="M548.2,461.2 C550.1,461.8 557.2,462.7 559.5,465 C561.8,467.3 561.8,471.7 562,475 C562.2,478.3 562.0,482.1 560.8,485 C559.5,487.9 557.2,490.8 554.5,492.5 C551.8,494.2 547.6,494.8 544.5,495 C541.4,495.2 538.3,493.6 535.8,493.8 C533.3,494.0 530.5,495.8 529.5,496.2" fill="none" stroke="#000" stroke-width="1" shape-rendering="crispEdges"/>
<path d="M559.5,471.2 L573.2,470" fill="none" stroke="#000" stroke-width="1" shape-rendering="crispEdges"/>
<path d="M530.8,515 C530.6,517.1 530.3,523.3 529.5,527.5 C528.7,531.7 526.4,537.9 525.8,540" fill="none" stroke="#000" stroke-width="1" shape-rendering="crispEdges"/>
<path d="M477,535 C476.2,535.4 473.5,535.8 472,537.5 C470.5,539.2 468.2,542.9 468.2,545 C468.2,547.1 471.4,549.2 472,550" fill="none" stroke="#000" stroke-width="1" shape-rendering="crispEdges"/>
<path d="M484.5,541.2 C485.8,541.8 489.1,544.8 492,545 C494.9,545.2 500.3,542.9 502,542.5" fill="none" stroke="#000" stroke-width="1" shape-rendering="crispEdges"/>
<path d="M503.2,523.8 L505.8,530" fill="none" stroke="#000" stroke-width="1" shape-rendering="crispEdges"/>
<path d="M507,522.5 L510,528.8" fill="none" stroke="#000" stroke-width="1" shape-rendering="crispEdges"/>
<path d="M510.8,522 L514,527" fill="none" stroke="#000" stroke-width="1" shape-rendering="crispEdges"/>
<path d="M468.2,545 C467.4,545.6 463.8,546.9 463.2,548.8 C462.6,550.7 465.1,554.1 464.5,556.2 C463.9,558.3 460.8,559.3 459.5,561.2 C458.2,563.1 457.6,564.8 457,567.5 C456.4,570.2 456.0,575.8 455.8,577.5" fill="none" stroke="#000" stroke-width="1" shape-rendering="crispEdges"/>
<path d="M472,567.5 C471.0,567.3 467.7,565.8 465.8,566.2 C463.9,566.6 461.9,568.3 460.8,570 C459.8,571.7 459.1,574.3 459.5,576.2 C459.9,578.1 462.6,580.4 463.2,581.2" fill="none" stroke="#000" stroke-width="1" shape-rendering="crispEdges"/>
<path d="M484.5,555 C483.7,556.8 485.8,560.9 487,563.8 C488.2,566.7 490.1,571.5 492,572.5 C493.9,573.5 496.9,572.1 498.2,570 C499.4,567.9 499.5,562.5 499.5,560 C499.5,557.5 499.4,556.2 498.2,555 C496.9,553.8 494.3,553.0 492,553 C489.7,553.0 485.3,553.2 484.5,555Z" fill="none" stroke="#000" stroke-width="1" shape-rendering="crispEdges"/>
<path d="M514.5,557.5 C514.9,559.2 515.5,564.6 517,567.5 C518.5,570.4 521.1,572.9 523.2,575 C525.3,577.1 528.5,579.2 529.5,580" fill="none" stroke="#000" stroke-width="1" shape-rendering="crispEdges"/>
<path d="M532,556.2 C532.4,557.5 534.9,561.9 534.5,563.8 C534.1,565.7 531.0,566.0 529.5,567.5 C528.0,569.0 525.8,570.8 525.8,572.5 C525.8,574.2 527.6,577.1 529.5,577.5 C531.4,577.9 534.9,576.2 537,575 C539.1,573.8 541.2,570.8 542,570" fill="none" stroke="#000" stroke-width="1" shape-rendering="crispEdges"/>
<path d="M548.2,565 C549.5,564.2 553.5,560.7 555.8,560.5 C558.1,560.3 560.6,562.0 562,563.8 C563.4,565.6 564.4,568.7 564,571.2 C563.6,573.7 561.5,577.3 559.5,578.8 C557.5,580.3 553.2,579.8 552,580" fill="none" stroke="#000" stroke-width="1" shape-rendering="crispEdges"/>
<path d="M412,580 C413.7,579.8 419.1,578.8 422,578.8 C424.9,578.8 428.2,579.8 429.5,580" fill="none" stroke="#000" stroke-width="1" shape-rendering="crispEdges"/>
<path d="M474.5,580 C476.2,580.6 481.2,582.8 484.5,583.8 C487.8,584.8 491.2,585.6 494.5,586.2 C497.8,586.8 502.4,586.0 504.5,587.5 C506.6,589.0 506.8,593.1 507,595 C507.2,596.9 506.0,598.2 505.8,598.8" fill="none" stroke="#000" stroke-width="1" shape-rendering="crispEdges"/>
<path d="M572,541.2 L568.2,555" fill="none" stroke="#000" stroke-width="1" shape-rendering="crispEdges"/>
<path d="M529.5,581.2 C530.8,581.4 535.1,581.0 537,582.5 C538.9,584.0 539.5,587.9 540.8,590 C542.0,592.1 543.3,593.5 544.5,595 C545.7,596.5 547.6,598.2 548.2,598.8" fill="none" stroke="#000" stroke-width="1" shape-rendering="crispEdges"/>
<path d="M559.5,581.2 C560.8,581.6 564.6,583.5 567,583.8 C569.4,584.1 572.8,583.3 574,583.2" fill="none" stroke="#000" stroke-width="1" shape-rendering="crispEdges"/>
<path d="M437,600 C437.4,598.8 438.2,595.0 439.5,592.5 C440.8,590.0 443.7,586.2 444.5,585" fill="none" stroke="#000" stroke-width="1" shape-rendering="crispEdges"/>
<path d="M241,472.5 C242.7,472.6 247.2,473.2 251,473 C254.8,472.8 259.8,472.1 263.5,471.2 C267.2,470.3 270.4,468.7 273.5,467.5 C276.6,466.3 279.3,465.1 282.2,463.8 C285.1,462.5 288.9,460.8 291,459.5 C293.1,458.2 294.2,456.8 294.8,456.2" fill="none" stroke="#000" stroke-width="1" shape-rendering="crispEdges"/>
<path d="M312.2,463.8 C312.7,465.2 315.1,469.8 315.2,472.5 C315.3,475.2 312.0,477.7 313,480 C314.0,482.3 318.6,484.1 321,486.2 C323.4,488.3 326.6,490.6 327.2,492.5 C327.8,494.4 326.7,495.6 324.8,497.5 C322.9,499.4 317.5,502.8 316,503.8" fill="none" stroke="#000" stroke-width="1" shape-rendering="crispEdges"/>
<path d="M304.8,492.5 C303.1,492.7 297.5,492.6 294.8,493.8 C292.1,495.1 289.3,497.7 288.5,500 C287.7,502.3 288.8,505.6 289.8,507.5 C290.9,509.4 293.1,511.0 294.8,511.2 C296.5,511.4 299.0,509.2 299.8,508.8" fill="none" stroke="#000" stroke-width="1" shape-rendering="crispEdges"/>
<path d="M323.5,436.2 C324.8,437.0 328.5,439.7 331,441.2 C333.5,442.7 336.0,443.3 338.5,445 C341.0,446.7 343.7,449.1 346,451.2 C348.3,453.3 350.1,455.4 352.2,457.5 C354.3,459.6 357.4,462.8 358.5,463.8" fill="none" stroke="#000" stroke-width="1" shape-rendering="crispEdges"/>
<path d="M334.8,423.8 C336.2,423.4 340.2,421.8 343.5,421.2 C346.8,420.6 351.5,420.6 354.8,420 C358.1,419.4 361.2,418.8 363.5,417.5 C365.8,416.2 365.6,413.8 368.5,412.5 C371.4,411.2 377.2,410.2 381,410 C384.8,409.8 388.9,412.0 391,411.2 C393.1,410.4 393.3,407.7 393.5,405 C393.7,402.3 392.4,396.7 392.2,395" fill="none" stroke="#000" stroke-width="1" shape-rendering="crispEdges"/>
<path d="M398.5,390 C398.7,392.1 400.0,399.6 399.8,402.5 C399.6,405.4 396.6,405.8 397.2,407.5 C397.8,409.2 401.0,410.8 403.5,412.5 C406.0,414.2 410.6,416.7 412,417.5" fill="none" stroke="#000" stroke-width="1" shape-rendering="crispEdges"/>
<path d="M346,486.2 C345.2,487.0 343.1,489.3 341,491.2 C338.9,493.1 335.4,495.2 333.5,497.5 C331.6,499.8 331.2,502.7 329.8,505 C328.4,507.3 325.6,510.2 324.8,511.2" fill="none" stroke="#000" stroke-width="1" shape-rendering="crispEdges"/>
<path d="M301,531.2 C299.3,531.0 294.1,529.4 291,530 C287.9,530.6 284.1,532.5 282.2,535 C280.3,537.5 280.0,541.2 279.8,545 C279.6,548.8 280.9,553.3 281,557.5 C281.1,561.7 280.1,566.5 280.5,570 C280.9,573.5 281.8,576.7 283.5,578.8 C285.2,580.9 288.1,582.1 291,582.5 C293.9,582.9 297.2,581.4 301,581.2 C304.8,581.0 309.8,580.8 313.5,581.2 C317.2,581.6 321.2,582.5 323.5,583.8 C325.8,585.1 326.6,588.0 327.2,588.8" fill="none" stroke="#000" stroke-width="1" shape-rendering="crispEdges"/>
<path d="M311,545 C311.8,546.0 313.5,549.1 316,551.2 C318.5,553.3 322.7,555.4 326,557.5 C329.3,559.6 334.3,562.8 336,563.8" fill="none" stroke="#000" stroke-width="1" shape-rendering="crispEdges"/>
<path d="M241,510 C241.6,510.8 244.4,513.3 244.8,515 C245.2,516.7 243.7,519.2 243.5,520" fill="none" stroke="#000" stroke-width="1" shape-rendering="crispEdges"/>
<path d="M327.2,398.8 C327.6,397.5 330.1,396.6 332.2,396.2 C334.3,395.8 338.1,395.6 339.8,396.2 C341.5,396.8 342.6,398.7 342.2,400 C341.8,401.3 339.3,403.2 337.2,403.8 C335.1,404.4 331.5,404.6 329.8,403.8 C328.1,403.0 326.8,400.1 327.2,398.8Z" fill="none" stroke="#000" stroke-width="1" shape-rendering="crispEdges"/>
<path d="M351,481.2 C352.2,480.8 356.0,479.4 358.5,478.8 C361.0,478.2 364.8,477.7 366,477.5" fill="none" stroke="#000" stroke-width="1" shape-rendering="crispEdges"/>
<path d="M377.2,438.8 C377.8,438.2 379.3,435.6 381,435 C382.7,434.4 385.5,434.4 387.2,435 C388.9,435.6 390.4,438.2 391,438.8" fill="none" stroke="#000" stroke-width="1" shape-rendering="crispEdges"/>
<path d="M393.5,420 L403.5,416.2" fill="none" stroke="#000" stroke-width="1" shape-rendering="crispEdges"/>
<path d="M397.2,431.2 C398.7,429.5 403.5,423.9 406,421.2 C408.5,418.5 411.0,416.0 412,415" fill="none" stroke="#000" stroke-width="1" shape-rendering="crispEdges"/>
<path d="M241,570 C242.7,569.6 248.1,568.1 251,567.5 C253.9,566.9 256.4,566.0 258.5,566.2 C260.6,566.4 262.7,568.4 263.5,568.8" fill="none" stroke="#000" stroke-width="1" shape-rendering="crispEdges"/>
<path d="M259.8,588.8 L258.5,598.8" fill="none" stroke="#000" stroke-width="1" shape-rendering="crispEdges"/>
<path d="M309.8,598.8 C310.2,598.2 310.8,595.7 312.2,595 C313.6,594.3 316.8,594.1 318.5,594.5 C320.2,594.9 321.6,597.0 322.2,597.5" fill="none" stroke="#000" stroke-width="1" shape-rendering="crispEdges"/>
<path d="M356,571.2 C356.8,572.2 360.2,575.0 361,577.5 C361.8,580.0 361.3,583.5 360.5,586.2 C359.7,588.9 357.6,591.7 356,593.8 C354.4,595.9 351.8,598.0 351,598.8" fill="none" stroke="#000" stroke-width="1" shape-rendering="crispEdges"/>
<path d="M347.2,577.5 C347.8,578.3 350.8,580.2 351,582.5 C351.2,584.8 349.5,588.5 348.5,591.2 C347.5,593.9 345.4,597.5 344.8,598.8" fill="none" stroke="#000" stroke-width="1" shape-rendering="crispEdges"/>
<path d="M379.8,548.8 C381.2,548.4 385.4,547.0 388.5,546.2 C391.6,545.4 395.6,544.6 398.5,543.8 C401.4,543.0 403.8,542.2 406,541.2 C408.2,540.2 411.0,538.1 412,537.5" fill="none" stroke="#000" stroke-width="1" shape-rendering="crispEdges"/>
<path d="M390.5,598.8 C390.9,596.9 392.4,591.5 393,587.5 C393.6,583.5 393.1,577.7 394,575 C394.9,572.3 396.5,571.2 398.5,571.2 C400.5,571.2 403.8,573.5 406,575 C408.2,576.5 411.0,579.2 412,580" fill="none" stroke="#000" stroke-width="1" shape-rendering="crispEdges"/>
<path d="M236,370 C238.2,370.3 244.9,371.3 249.3,371.7 C253.8,372.1 259.2,372.8 262.7,372.5 C266.1,372.2 268.8,370.4 270,370" fill="none" stroke="#000" stroke-width="1" shape-rendering="crispEdges"/>
<path d="M234.3,382.5 C236.2,382.5 242.4,382.2 246,382.5 C249.6,382.8 253.5,383.2 256,384.2 C258.5,385.2 259.9,386.8 261,388.3 C262.1,389.8 261.9,392.1 262.7,393.3 C263.5,394.6 264.8,395.5 266,395.8 C267.2,396.1 269.3,395.1 270,395" fill="none" stroke="#000" stroke-width="1" shape-rendering="crispEdges"/>
<path d="M218.5,403.3 C219.8,403.7 223.6,405.0 226,405.8 C228.4,406.6 230.9,407.2 232.7,408.3 C234.5,409.4 236.0,410.8 236.8,412.5 C237.6,414.2 237.8,416.2 237.7,418.3 C237.6,420.4 236.3,423.9 236,425" fill="none" stroke="#000" stroke-width="1" shape-rendering="crispEdges"/>
<path d="M195.2,416.7 C196.2,416.6 199.5,416.5 201,415.8 C202.5,415.1 203.8,413.5 204.3,412.5 C204.9,411.5 204.3,410.4 204.3,410" fill="none" stroke="#000" stroke-width="1" shape-rendering="crispEdges"/>
<path d="M206,423.3 C207.1,422.9 211.0,421.9 212.7,420.8 C214.4,419.7 215.3,418.2 216,416.7 C216.7,415.2 217.1,413.1 216.8,411.7 C216.5,410.3 214.7,408.9 214.3,408.3" fill="none" stroke="#000" stroke-width="1" shape-rendering="crispEdges"/>
<path d="M213.5,450 C214.5,450.6 217.8,451.6 219.3,453.3 C220.8,455.0 221.3,457.8 222.7,460 C224.1,462.2 225.5,465.0 227.7,466.7 C229.9,468.4 232.4,469.2 236,470 C239.6,470.8 244.9,471.6 249.3,471.7 C253.8,471.8 259.2,471.4 262.7,470.8 C266.1,470.2 267.2,469.6 270,468.3 C272.8,467.1 277.8,464.1 279.3,463.3" fill="none" stroke="#000" stroke-width="1" shape-rendering="crispEdges"/>
<path d="M216.1,504.6 C218.2,504.8 225.1,505.1 228.9,505.6 C232.7,506.1 236.2,506.6 238.7,507.6 C241.2,508.6 242.7,509.9 243.7,511.5 C244.7,513.1 245.4,515.3 244.6,517.4 C243.8,519.5 240.3,522.2 238.7,524.3 C237.1,526.4 235.8,528.1 234.8,530.2 C233.8,532.3 233.8,535.1 232.8,537.1 C231.8,539.1 230.4,540.7 228.9,542 C227.4,543.3 224.8,544.5 224,545" fill="none" stroke="#000" stroke-width="1" shape-rendering="crispEdges"/>
<path d="M224.9,572.6 C227.2,572.3 234.8,571.4 238.7,570.6 C242.6,569.8 245.6,568.5 248.6,567.7 C251.6,566.9 254.1,565.9 256.5,565.7 C258.9,565.5 262.2,566.5 263.3,566.7" fill="none" stroke="#000" stroke-width="1" shape-rendering="crispEdges"/>
<path d="M259.4,598.2 C259.4,596.7 258.8,591.1 259.4,589.3 C260.0,587.5 262.6,587.6 263.3,587.3" fill="none" stroke="#000" stroke-width="1" shape-rendering="crispEdges"/>
<path d="M225.9,586.4 C227.1,586.5 230.7,586.5 232.8,587.3 C234.9,588.1 237.4,589.5 238.7,591.3 C240.0,593.1 240.4,597.1 240.7,598.2" fill="none" stroke="#000" stroke-width="1" shape-rendering="crispEdges"/>
<path d="M258.8,322.1 C260.3,322.2 265.1,323.4 267.6,323 C270.1,322.6 271.9,321.1 273.7,319.5 C275.4,317.9 276.5,314.8 278.1,313.3 C279.7,311.8 281.6,311.3 283.4,310.7 C285.1,310.1 287.7,309.9 288.6,309.8" fill="none" stroke="#000" stroke-width="1" shape-rendering="crispEdges"/>
<path d="M253.5,330 C255.8,329.5 263.2,327.7 267.6,327 C272.0,326.3 277.8,326.2 279.9,326" fill="none" stroke="#000" stroke-width="1" shape-rendering="crispEdges"/>
<path d="M257.9,332.3 C260.1,331.8 266.9,330.4 271.1,329.5 C275.4,328.6 281.3,327.4 283.4,327" fill="none" stroke="#000" stroke-width="1" shape-rendering="crispEdges"/>
<path d="M257.1,334.7 C258.3,334.8 260.3,335.8 264.1,335.4 C267.9,335.0 275.8,332.8 279.9,332.6 C284.0,332.4 285.7,333.5 288.6,334.4 C291.5,335.3 294.9,336.7 297.4,337.9 C299.9,339.1 302.5,340.8 303.5,341.4" fill="none" stroke="#000" stroke-width="1" shape-rendering="crispEdges"/>
<path d="M251.8,338.8 C253.9,338.7 259.7,338.7 264.1,338.2 C268.5,337.7 274.0,335.9 278.1,335.8 C282.2,335.8 285.4,336.9 288.6,337.9 C291.8,338.9 295.9,341.1 297.4,341.8" fill="none" stroke="#000" stroke-width="1" shape-rendering="crispEdges"/>
<path d="M246.5,342.3 C248.8,342.1 255.6,342.0 260.6,341.4 C265.6,340.8 272.0,338.8 276.4,338.8 C280.8,338.8 283.8,340.3 286.9,341.4 C290.0,342.5 293.5,344.6 294.8,345.3" fill="none" stroke="#000" stroke-width="1" shape-rendering="crispEdges"/>
<path d="M241.3,344.9 C241.6,346.1 241.8,349.6 243,351.9 C244.2,354.2 246.2,357.0 248.3,358.9 C250.4,360.8 253.0,362.7 255.3,363.3 C257.6,363.9 260.1,363.1 262.3,362.5 C264.5,361.9 267.5,360.2 268.5,359.8" fill="none" stroke="#000" stroke-width="1" shape-rendering="crispEdges"/>
<path d="M287.8,356.3 L293,355.4" fill="none" stroke="#000" stroke-width="1" shape-rendering="crispEdges"/>
<path d="M236,369.5 C237.8,369.8 242.7,370.8 246.5,371.2 C250.3,371.6 255.3,372.2 258.8,372.1 C262.3,372.0 265.1,371.4 267.6,370.4 C270.1,369.4 271.9,367.3 273.7,366 C275.4,364.7 277.4,363.1 278.1,362.5" fill="none" stroke="#000" stroke-width="1" shape-rendering="crispEdges"/>
<path d="M236,381.8 C237.8,381.9 243.3,382.2 246.5,382.6 C249.7,383.0 253.0,383.4 255.3,384.4 C257.7,385.4 259.4,386.9 260.6,388.8 C261.8,390.7 262.0,394.6 262.3,395.8" fill="none" stroke="#000" stroke-width="1" shape-rendering="crispEdges"/>
<path d="M271.1,390.5 C272.9,389.6 278.7,387.1 281.6,385.3 C284.5,383.6 286.4,381.8 288.6,380 C290.8,378.2 293.8,375.6 294.8,374.7" fill="none" stroke="#000" stroke-width="1" shape-rendering="crispEdges"/>
<path d="M344.8,348.4 C343.8,349.6 341.0,353.6 338.6,355.4 C336.2,357.1 333.5,358.2 330.7,358.9 C327.9,359.6 324.3,358.9 322,359.8 C319.7,360.7 317.3,362.6 316.7,364.2 C316.1,365.8 317.0,368.3 318.5,369.5 C320.0,370.7 324.3,370.9 325.5,371.2" fill="none" stroke="#000" stroke-width="1" shape-rendering="crispEdges"/>
<path d="M344.8,372.1 C345.7,372.7 348.7,374.3 350,375.6 C351.3,376.9 352.4,377.8 352.7,380 C353.0,382.2 351.8,386.2 351.8,388.8 C351.8,391.4 352.6,394.6 352.7,395.8" fill="none" stroke="#000" stroke-width="1" shape-rendering="crispEdges"/>
<path d="M320.2,334.4 C320.5,335.6 321.1,339.2 322,341.4 C322.9,343.6 323.8,346.0 325.5,347.5 C327.2,349.0 329.9,349.9 332.5,350.2 C335.1,350.5 339.8,349.4 341.3,349.3" fill="none" stroke="#000" stroke-width="1" shape-rendering="crispEdges"/>
<path d="M327.2,332.6 C327.9,333.8 329.8,338.0 331.6,339.6 C333.4,341.2 336.8,341.9 337.8,342.3" fill="none" stroke="#000" stroke-width="1" shape-rendering="crispEdges"/>
<path d="M334.2,330.9 L337.8,334.4" fill="none" stroke="#000" stroke-width="1" shape-rendering="crispEdges"/>
<path d="M305.3,352.8 L302.7,357.2" fill="none" stroke="#000" stroke-width="1" shape-rendering="crispEdges"/>
<path d="M380.3,270.2 C379.4,270.2 377.7,268.9 375.1,270.2 C372.5,271.5 367.1,275.0 364.5,278.1 C361.9,281.2 360.2,286.9 359.3,288.6" fill="none" stroke="#000" stroke-width="1" shape-rendering="crispEdges"/>
<path d="M414.2,315.8 C413.8,318.0 413.2,325.5 411.9,328.9 C410.6,332.3 408.7,334.1 406.6,336 C404.6,337.9 402.2,339.4 399.6,340.4 C397.0,341.4 393.7,342.4 390.8,342.1 C387.9,341.8 385.0,339.6 382.1,338.6 C379.2,337.6 375.8,336.7 373.3,336 C370.8,335.3 368.2,334.5 367.2,334.2" fill="none" stroke="#000" stroke-width="1" shape-rendering="crispEdges"/>
<path d="M376.8,304.7 C379.4,304.2 388.1,301.4 392.6,301.8 C397.1,302.2 402.5,305.4 404,307 C405.5,308.6 403.1,309.0 401.4,311.4 C399.6,313.8 396.7,319.4 393.5,321.1 C390.3,322.9 385.2,322.6 382.1,321.9 C379.0,321.2 376.3,317.6 375.1,316.7" fill="none" stroke="#000" stroke-width="1" shape-rendering="crispEdges"/>
<path d="M362.8,308.8 C365.3,308.7 375.2,307.2 377.7,308.2 C380.2,309.2 377.7,313.5 377.7,314.6" fill="none" stroke="#000" stroke-width="1" shape-rendering="crispEdges"/>
<path d="M411.9,347.5 C412.2,347.9 414.5,348.7 413.6,350 C412.7,351.3 408.8,353.6 406.6,355.3 C404.4,357.1 401.9,358.6 400.5,360.5 C399.1,362.4 398.3,365.7 397.9,366.7" fill="none" stroke="#000" stroke-width="1" shape-rendering="crispEdges"/>
<path d="M378.6,355.3 C378.9,356.5 380.3,360.6 380.3,362.3 C380.3,364.1 378.9,365.2 378.6,365.8" fill="none" stroke="#000" stroke-width="1" shape-rendering="crispEdges"/>
<path d="M391.4,395.9 C390.2,394.8 386.1,391.8 384.5,389.1 C382.9,386.5 382.2,383.3 381.5,380 C380.8,376.7 380.5,372.9 380,369.4 C379.5,365.9 378.8,360.6 378.5,358.8" fill="none" stroke="#000" stroke-width="1" shape-rendering="crispEdges"/>
<path d="M398.5,390 C398.1,389.7 395.8,389.5 395.9,388.3 C396.0,387.1 398.0,385.1 398.9,383 C399.8,380.9 401.3,378.3 401.2,375.5 C401.1,372.7 398.2,368.9 398.2,366.4 C398.2,363.9 399.4,362.3 401.2,360.3 C403.0,358.3 406.3,356.5 408.8,354.2 C411.3,351.9 414.8,349.2 416.4,346.7 C418.0,344.2 418.2,340.4 418.6,339.1" fill="none" stroke="#000" stroke-width="1" shape-rendering="crispEdges"/>
<path d="M330,360.3 C331.5,360.1 336.6,359.8 339.1,358.8 C341.6,357.8 343.4,355.7 345.2,354.2 C347.0,352.7 348.1,350.5 349.7,349.7 C351.3,348.9 353.2,349.0 355,349.4 C356.8,349.8 358.4,350.6 360.3,352 C362.2,353.4 364.8,355.6 366.4,358 C368.0,360.4 369.3,363.2 370.2,366.4 C371.1,369.6 371.6,373.5 371.7,377 C371.8,380.5 371.7,385.0 370.9,387.6 C370.1,390.2 368.9,392.1 367.1,392.9 C365.3,393.6 362.5,392.5 360.3,392.1 C358.1,391.7 355.2,390.9 354.2,390.6" fill="none" stroke="#000" stroke-width="1" shape-rendering="crispEdges"/>
<path d="M358,337.6 C359.1,338.6 362.9,342.1 364.8,343.6 C366.7,345.1 368.6,346.2 369.4,346.7" fill="none" stroke="#000" stroke-width="1" shape-rendering="crispEdges"/>
<path d="M417.9,412.6 C418.9,412.7 422.4,412.7 423.9,413.3 C425.4,413.9 426.9,415.1 427,416.4 C427.1,417.7 426.0,419.6 424.7,420.9 C423.4,422.1 420.3,423.4 419.4,423.9" fill="none" stroke="#000" stroke-width="1" shape-rendering="crispEdges"/>
<path d="M378.9,464.9 C379.4,465.6 381.1,467.7 382.1,468.9 C383.1,470.1 384.3,471.4 384.7,471.9" fill="none" stroke="#000" stroke-width="1" shape-rendering="crispEdges"/>
<path d="M390,486 C390.9,485.6 393.6,484.7 395.3,483.9 C397.1,483.1 399.6,481.8 400.5,481.4" fill="none" stroke="#000" stroke-width="1" shape-rendering="crispEdges"/>
<path d="M400.5,487.7 L403.2,487.7" fill="none" stroke="#000" stroke-width="1" shape-rendering="crispEdges"/>
<path d="M399.6,497.9 L402.8,496.5" fill="none" stroke="#000" stroke-width="1" shape-rendering="crispEdges"/>
<path d="M554,427.8 C553.9,429.0 554.1,432.5 553.2,435 C552.3,437.5 550.1,441.2 548.5,443 C546.9,444.8 544.2,443.9 543.8,446 C543.4,448.1 546.3,453.0 546,455.5 C545.7,458.0 543.6,460.4 541.8,461 C540.0,461.6 537.8,460.9 535.2,459.2 C532.6,457.5 528.0,452.8 526,450.8 C524.0,448.8 523.5,447.6 523,447" fill="none" stroke="#000" stroke-width="1" shape-rendering="crispEdges"/>
<path d="M525.5,431.2 C527.4,429.2 532.4,430.0 536.2,429 C540.0,428.0 545.9,425.2 548.5,425.2 C551.1,425.2 551.6,427.4 552,429 C552.4,430.6 552.0,433.0 551,435 C550.0,437.0 547.6,439.2 546,441 C544.4,442.8 541.9,444.0 541.2,446 C540.5,448.0 542.4,451.6 541.8,453.2 C541.2,454.8 539.2,455.7 537.5,455.5 C535.8,455.3 533.3,453.6 531.5,452 C529.7,450.4 527.9,447.8 526.8,446 C525.7,444.2 525.0,443.5 524.8,441 C524.6,438.5 523.6,433.2 525.5,431.2Z" fill="none" stroke="#000" stroke-width="1" shape-rendering="crispEdges"/>
<path d="M518.2,430 C519.5,429.5 523.5,427.6 525.8,427 C528.1,426.4 531.0,426.3 532,426.2" fill="none" stroke="#000" stroke-width="1" shape-rendering="crispEdges"/>
<path d="M522,432.5 L528.2,430" fill="none" stroke="#000" stroke-width="1" shape-rendering="crispEdges"/>
<path d="M543.2,437.5 C544.0,436.9 547.1,435.1 548.2,433.8 C549.3,432.6 549.7,430.6 550,430" fill="none" stroke="#000" stroke-width="1" shape-rendering="crispEdges"/>
<path d="M334,595 L334,599.5" fill="none" stroke="#000" stroke-width="1" shape-rendering="crispEdges"/>
<path d="M336,594.5 L336,599.5" fill="none" stroke="#000" stroke-width="1" shape-rendering="crispEdges"/>
</g>
<polygon points="389,74.4 389,76.9 390.3,82.6 392.1,92.6 392.8,101.4 396.5,107.7 398.4,117.8 400.9,121.6 397.8,120.3 394,113.4 390.3,112.1 384,114.7 379.6,112.8 377.7,107.1 376.2,109 377,112.8 378.3,120.3 378.3,130.4 380.8,134.2 371,140 362.2,150 360.5,157.5 363.5,163.8 371,168.8 372.2,175 368.5,177.5 361,177.5 358.5,182.5 351,187.5 341,188.8 339.8,195 343.5,200 351,197.5 354.8,201.2 363.5,202.5 364.8,210 354.8,215 348.5,220 344.8,226.2 346,230 347.3,225 350.9,230.5 353.6,235.9 356.4,236.8 362.7,235.9 364.5,241.4 364.5,248.6 360.9,250.5 355.5,249.5 353.6,252.3 354.5,257.7 351.8,261.4 350,263.2 353.6,264.1 351.8,267.7 343.6,269.5 344.5,274.1 347.3,279.5 348.2,283.2 353.6,281.4 357.3,283.2 361.8,285 359.1,288.6 354.5,290.5 355.5,295.9 359.1,297.7 360.9,305 362.7,310.5 365.5,315.9 362.7,321.4 360,326.8 357.3,323.2 353.6,319.5 349.1,315.9 344.5,314.1 343.6,305.9 340.9,303.2 335.5,302.3 333.6,298.6 337.3,295.9 340,295 335.5,290.5 330.9,285.9 327.3,288.6 323.6,290.5 320,288.6 319.8,288.8 314.8,281.2 301,280 286,283.8 273.5,287.5 266,291.2 270,288.7 264.3,293.3 260.2,297.5 254.3,296.7 251.8,292.5 246.8,293.3 242.7,290 239.3,292.5 234.3,297.5 232.7,301.7 227.7,304.2 231,308.3 226,311.7 229.3,315 237.7,314.2 236.8,320 231.8,326.7 223.5,328.3 221,333.3 217.7,340 212.7,350 206,363.3 201.8,373.3 200.7,380 202.3,370 200.2,381.7 197.7,393.3 195.2,410 193.5,423.3 193,435 195.2,450 197.7,463.3 202.7,473.3 206.8,480 208.2,480 214.1,486.9 216.1,503.6 220,511.5 222,531.2 224,547 224.9,572.6 224.9,582.4 227.9,598.2 228.5,606.1 60,620 60,60" fill="#666666" shape-rendering="crispEdges"/>
<polygon points="399.1,73.8 399.1,76.9 400.3,81.3 404.1,85.1 406.6,92.6 410.4,95.2 415.4,91.4 414.2,86.4 411,85.1 412.3,81.3 414.8,78.8 420.4,79.4 422.3,77.5 423,73.8" fill="#666666" shape-rendering="crispEdges"/>
<polygon points="385.8,118.4 388.4,117.8 390.3,119.7 389,122.8 387.7,126 389,129.1 390.9,130.4 390.3,132.3 387.7,131.6 385.2,127.9 384,123.5 384.2,120.3" fill="#666666" shape-rendering="crispEdges"/>
<polygon points="369.1,316.8 372.4,315 375.6,317.4 377.1,322.3 375.6,326.5 372.4,325.4 369.5,321.4" fill="#666666" shape-rendering="crispEdges"/>
<polygon points="344.5,327.7 347.3,326.8 350,330.5 351.8,334.1 350.9,336.3 348.2,335 345.5,332.3 343.6,329.5" fill="#666666" shape-rendering="crispEdges"/>
<polygon points="329.6,316.5 332,316.1 333.1,319.5 332,324.5 329.3,325 328.7,320.5" fill="#666666" shape-rendering="crispEdges"/>
<polygon points="360,261.9 362.4,263.7 364,268.6 362.9,271.2 360.7,269.9 359.6,265.9" fill="#666666" shape-rendering="crispEdges"/>
<polygon points="256.5,303 259.7,300.5 264.7,308.7 261.7,311.2" fill="#666666" shape-rendering="crispEdges"/>
<polyline points="389,74.4 389,76.9 390.3,82.6 392.1,92.6 392.8,101.4 396.5,107.7 398.4,117.8 400.9,121.6 397.8,120.3 394,113.4 390.3,112.1 384,114.7 379.6,112.8 377.7,107.1 376.2,109 377,112.8 378.3,120.3 378.3,130.4 380.8,134.2 371,140 362.2,150 360.5,157.5 363.5,163.8 371,168.8 372.2,175 368.5,177.5 361,177.5 358.5,182.5 351,187.5 341,188.8 339.8,195 343.5,200 351,197.5 354.8,201.2 363.5,202.5 364.8,210 354.8,215 348.5,220 344.8,226.2 346,230 347.3,225 350.9,230.5 353.6,235.9 356.4,236.8 362.7,235.9 364.5,241.4 364.5,248.6 360.9,250.5 355.5,249.5 353.6,252.3 354.5,257.7 351.8,261.4 350,263.2 353.6,264.1 351.8,267.7 343.6,269.5 344.5,274.1 347.3,279.5 348.2,283.2 353.6,281.4 357.3,283.2 361.8,285 359.1,288.6 354.5,290.5 355.5,295.9 359.1,297.7 360.9,305 362.7,310.5 365.5,315.9 362.7,321.4 360,326.8 357.3,323.2 353.6,319.5 349.1,315.9 344.5,314.1 343.6,305.9 340.9,303.2 335.5,302.3 333.6,298.6 337.3,295.9 340,295 335.5,290.5 330.9,285.9 327.3,288.6 323.6,290.5 320,288.6 319.8,288.8 314.8,281.2 301,280 286,283.8 273.5,287.5 266,291.2 270,288.7 264.3,293.3 260.2,297.5 254.3,296.7 251.8,292.5 246.8,293.3 242.7,290 239.3,292.5 234.3,297.5 232.7,301.7 227.7,304.2 231,308.3 226,311.7 229.3,315 237.7,314.2 236.8,320 231.8,326.7 223.5,328.3 221,333.3 217.7,340 212.7,350 206,363.3 201.8,373.3 200.7,380 202.3,370 200.2,381.7 197.7,393.3 195.2,410 193.5,423.3 193,435 195.2,450 197.7,463.3 202.7,473.3 206.8,480 208.2,480 214.1,486.9 216.1,503.6 220,511.5 222,531.2 224,547 224.9,572.6 224.9,582.4 227.9,598.2 228.5,606.1" fill="none" stroke="#000" stroke-width="1" shape-rendering="crispEdges"/>
<text x="510.0" y="158.0" transform="rotate(-55 510.0 158.0)" font-family="Liberation Sans, sans-serif" font-size="12" text-anchor="middle" dominant-baseline="central" fill="#000" stroke="#000" stroke-width="0.2">21</text>
<text x="515.8" y="102.5" transform="rotate(85 515.8 102.5)" font-family="Liberation Sans, sans-serif" font-size="12" text-anchor="middle" dominant-baseline="central" fill="#000" stroke="#000" stroke-width="0.2">22</text>
<text x="525.8" y="120.0" transform="rotate(85 525.8 120.0)" font-family="Liberation Sans, sans-serif" font-size="12" text-anchor="middle" dominant-baseline="central" fill="#000" stroke="#000" stroke-width="0.2">23</text>
<text x="562.8" y="84.5" transform="rotate(60 562.8 84.5)" font-family="Liberation Sans, sans-serif" font-size="12" text-anchor="middle" dominant-baseline="central" fill="#000" stroke="#000" stroke-width="0.2">23</text>
<text x="569.5" y="121.2" transform="rotate(-80 569.5 121.2)" font-family="Liberation Sans, sans-serif" font-size="12" text-anchor="middle" dominant-baseline="central" fill="#000" stroke="#000" stroke-width="0.2">23</text>
<text x="394.9" y="244.7" transform="rotate(85 394.9 244.7)" font-family="Liberation Sans, sans-serif" font-size="12" text-anchor="middle" dominant-baseline="central" fill="#000" stroke="#000" stroke-width="0.2">22</text>
<text x="401.1" y="295.6" transform="rotate(0 401.1 295.6)" font-family="Liberation Sans, sans-serif" font-size="12" text-anchor="middle" dominant-baseline="central" fill="#000" stroke="#000" stroke-width="0.2">21</text>
<text x="422.5" y="328.8" transform="rotate(-60 422.5 328.8)" font-family="Liberation Sans, sans-serif" font-size="12" text-anchor="middle" dominant-baseline="central" fill="#000" stroke="#000" stroke-width="0.2">22</text>
<text x="523.2" y="328.8" transform="rotate(-15 523.2 328.8)" font-family="Liberation Sans, sans-serif" font-size="12" text-anchor="middle" dominant-baseline="central" fill="#000" stroke="#000" stroke-width="0.2">23</text>
<text x="539.5" y="377.5" transform="rotate(25 539.5 377.5)" font-family="Liberation Sans, sans-serif" font-size="12" text-anchor="middle" dominant-baseline="central" fill="#000" stroke="#000" stroke-width="0.2">23</text>
<text x="457.5" y="329.2" transform="rotate(-65 457.5 329.2)" font-family="Liberation Sans, sans-serif" font-size="12" text-anchor="middle" dominant-baseline="central" fill="#000" stroke="#000" stroke-width="0.2">23</text>
<text x="526.5" y="341.2" transform="rotate(35 526.5 341.2)" font-family="Liberation Sans, sans-serif" font-size="12" text-anchor="middle" dominant-baseline="central" fill="#000" stroke="#000" stroke-width="0.2">22</text>
<text x="452.0" y="383.8" transform="rotate(-20 452.0 383.8)" font-family="Liberation Sans, sans-serif" font-size="12" text-anchor="middle" dominant-baseline="central" fill="#000" stroke="#000" stroke-width="0.2">23</text>
<text x="436.5" y="412.0" transform="rotate(-55 436.5 412.0)" font-family="Liberation Sans, sans-serif" font-size="12" text-anchor="middle" dominant-baseline="central" fill="#000" stroke="#000" stroke-width="0.2">22</text>
<text x="445.0" y="420.0" transform="rotate(-20 445.0 420.0)" font-family="Liberation Sans, sans-serif" font-size="12" text-anchor="middle" dominant-baseline="central" fill="#000" stroke="#000" stroke-width="0.2">23</text>
<text x="416.5" y="427.0" transform="rotate(-30 416.5 427.0)" font-family="Liberation Sans, sans-serif" font-size="12" text-anchor="middle" dominant-baseline="central" fill="#000" stroke="#000" stroke-width="0.2">22</text>
<text x="569.0" y="406.2" transform="rotate(-15 569.0 406.2)" font-family="Liberation Sans, sans-serif" font-size="12" text-anchor="middle" dominant-baseline="central" fill="#000" stroke="#000" stroke-width="0.2">23</text>
<text x="533.2" y="438.8" transform="rotate(-10 533.2 438.8)" font-family="Liberation Sans, sans-serif" font-size="12" text-anchor="middle" dominant-baseline="central" fill="#000" stroke="#000" stroke-width="0.2">20</text>
<text x="538.8" y="425.0" transform="rotate(-25 538.8 425.0)" font-family="Liberation Sans, sans-serif" font-size="12" text-anchor="middle" dominant-baseline="central" fill="#000" stroke="#000" stroke-width="0.2">21</text>
<text x="569.0" y="441.2" transform="rotate(60 569.0 441.2)" font-family="Liberation Sans, sans-serif" font-size="12" text-anchor="middle" dominant-baseline="central" fill="#000" stroke="#000" stroke-width="0.2">24</text>
<text x="567.0" y="420.0" transform="rotate(-10 567.0 420.0)" font-family="Liberation Sans, sans-serif" font-size="12" text-anchor="middle" dominant-baseline="central" fill="#000" stroke="#000" stroke-width="0.2">23</text>
<text x="452.0" y="488.8" transform="rotate(5 452.0 488.8)" font-family="Liberation Sans, sans-serif" font-size="12" text-anchor="middle" dominant-baseline="central" fill="#000" stroke="#000" stroke-width="0.2">23</text>
<text x="508.2" y="482.5" transform="rotate(-80 508.2 482.5)" font-family="Liberation Sans, sans-serif" font-size="12" text-anchor="middle" dominant-baseline="central" fill="#000" stroke="#000" stroke-width="0.2">23</text>
<text x="518.2" y="455.0" transform="rotate(60 518.2 455.0)" font-family="Liberation Sans, sans-serif" font-size="12" text-anchor="middle" dominant-baseline="central" fill="#000" stroke="#000" stroke-width="0.2">24</text>
<text x="537.0" y="478.8" transform="rotate(-60 537.0 478.8)" font-family="Liberation Sans, sans-serif" font-size="12" text-anchor="middle" dominant-baseline="central" fill="#000" stroke="#000" stroke-width="0.2">24</text>
<text x="529.5" y="511.2" transform="rotate(80 529.5 511.2)" font-family="Liberation Sans, sans-serif" font-size="12" text-anchor="middle" dominant-baseline="central" fill="#000" stroke="#000" stroke-width="0.2">A</text>
<text x="478.2" y="542.5" transform="rotate(-60 478.2 542.5)" font-family="Liberation Sans, sans-serif" font-size="12" text-anchor="middle" dominant-baseline="central" fill="#000" stroke="#000" stroke-width="0.2">2</text>
<text x="517.0" y="531.2" transform="rotate(-30 517.0 531.2)" font-family="Liberation Sans, sans-serif" font-size="12" text-anchor="middle" dominant-baseline="central" fill="#000" stroke="#000" stroke-width="0.2">20</text>
<text x="464.5" y="501.2" transform="rotate(90 464.5 501.2)" font-family="Liberation Sans, sans-serif" font-size="12" text-anchor="middle" dominant-baseline="central" fill="#000" stroke="#000" stroke-width="0.2">vv</text>
<text x="471.5" y="578.8" transform="rotate(-75 471.5 578.8)" font-family="Liberation Sans, sans-serif" font-size="12" text-anchor="middle" dominant-baseline="central" fill="#000" stroke="#000" stroke-width="0.2">23</text>
<text x="475.0" y="581.2" transform="rotate(-70 475.0 581.2)" font-family="Liberation Sans, sans-serif" font-size="12" text-anchor="middle" dominant-baseline="central" fill="#000" stroke="#000" stroke-width="0.2">23</text>
<text x="467.5" y="591.2" transform="rotate(0 467.5 591.2)" font-family="Liberation Sans, sans-serif" font-size="12" text-anchor="middle" dominant-baseline="central" fill="#000" stroke="#000" stroke-width="0.2">2 4</text>
<text x="502.0" y="553.8" transform="rotate(-50 502.0 553.8)" font-family="Liberation Sans, sans-serif" font-size="12" text-anchor="middle" dominant-baseline="central" fill="#000" stroke="#000" stroke-width="0.2">22</text>
<text x="544.0" y="575.0" transform="rotate(-20 544.0 575.0)" font-family="Liberation Sans, sans-serif" font-size="12" text-anchor="middle" dominant-baseline="central" fill="#000" stroke="#000" stroke-width="0.2">24</text>
<text x="555.8" y="587.5" transform="rotate(-60 555.8 587.5)" font-family="Liberation Sans, sans-serif" font-size="12" text-anchor="middle" dominant-baseline="central" fill="#000" stroke="#000" stroke-width="0.2">25</text>
<text x="435.0" y="577.5" transform="rotate(-10 435.0 577.5)" font-family="Liberation Sans, sans-serif" font-size="12" text-anchor="middle" dominant-baseline="central" fill="#000" stroke="#000" stroke-width="0.2">23</text>
<text x="430.8" y="586.8" transform="rotate(-20 430.8 586.8)" font-family="Liberation Sans, sans-serif" font-size="12" text-anchor="middle" dominant-baseline="central" fill="#000" stroke="#000" stroke-width="0.2">22</text>
<text x="434.0" y="595.5" transform="rotate(0 434.0 595.5)" font-family="Liberation Sans, sans-serif" font-size="12" text-anchor="middle" dominant-baseline="central" fill="#000" stroke="#000" stroke-width="0.2">1</text>
<text x="570.0" y="547.5" transform="rotate(-70 570.0 547.5)" font-family="Liberation Sans, sans-serif" font-size="12" text-anchor="middle" dominant-baseline="central" fill="#000" stroke="#000" stroke-width="0.2">24</text>
<text x="540.8" y="591.2" transform="rotate(50 540.8 591.2)" font-family="Liberation Sans, sans-serif" font-size="12" text-anchor="middle" dominant-baseline="central" fill="#000" stroke="#000" stroke-width="0.2">21</text>
<text x="309.0" y="500.0" transform="rotate(-70 309.0 500.0)" font-family="Liberation Sans, sans-serif" font-size="12" text-anchor="middle" dominant-baseline="central" fill="#000" stroke="#000" stroke-width="0.2">21</text>
<text x="329.0" y="428.8" transform="rotate(-35 329.0 428.8)" font-family="Liberation Sans, sans-serif" font-size="12" text-anchor="middle" dominant-baseline="central" fill="#000" stroke="#000" stroke-width="0.2">22</text>
<text x="319.0" y="514.5" transform="rotate(25 319.0 514.5)" font-family="Liberation Sans, sans-serif" font-size="12" text-anchor="middle" dominant-baseline="central" fill="#000" stroke="#000" stroke-width="0.2">22</text>
<text x="307.2" y="535.5" transform="rotate(60 307.2 535.5)" font-family="Liberation Sans, sans-serif" font-size="12" text-anchor="middle" dominant-baseline="central" fill="#000" stroke="#000" stroke-width="0.2">22</text>
<text x="260.5" y="528.8" transform="rotate(60 260.5 528.8)" font-family="Liberation Sans, sans-serif" font-size="12" text-anchor="middle" dominant-baseline="central" fill="#000" stroke="#000" stroke-width="0.2">22</text>
<text x="335.5" y="399.5" transform="rotate(15 335.5 399.5)" font-family="Liberation Sans, sans-serif" font-size="12" text-anchor="middle" dominant-baseline="central" fill="#000" stroke="#000" stroke-width="0.2">23</text>
<text x="391.0" y="420.0" transform="rotate(-70 391.0 420.0)" font-family="Liberation Sans, sans-serif" font-size="12" text-anchor="middle" dominant-baseline="central" fill="#000" stroke="#000" stroke-width="0.2">21</text>
<text x="266.0" y="578.8" transform="rotate(-80 266.0 578.8)" font-family="Liberation Sans, sans-serif" font-size="12" text-anchor="middle" dominant-baseline="central" fill="#000" stroke="#000" stroke-width="0.2">21</text>
<text x="213.5" y="441.7" transform="rotate(-60 213.5 441.7)" font-family="Liberation Sans, sans-serif" font-size="12" text-anchor="middle" dominant-baseline="central" fill="#000" stroke="#000" stroke-width="0.2">22</text>
<text x="262.3" y="317.7" transform="rotate(-50 262.3 317.7)" font-family="Liberation Sans, sans-serif" font-size="12" text-anchor="middle" dominant-baseline="central" fill="#000" stroke="#000" stroke-width="0.2">19</text>
<text x="279.9" y="357.2" transform="rotate(-10 279.9 357.2)" font-family="Liberation Sans, sans-serif" font-size="12" text-anchor="middle" dominant-baseline="central" fill="#000" stroke="#000" stroke-width="0.2">20</text>
<text x="300.0" y="364.6" transform="rotate(-60 300.0 364.6)" font-family="Liberation Sans, sans-serif" font-size="12" text-anchor="middle" dominant-baseline="central" fill="#000" stroke="#000" stroke-width="0.2">22</text>
<text x="337.8" y="370.4" transform="rotate(5 337.8 370.4)" font-family="Liberation Sans, sans-serif" font-size="12" text-anchor="middle" dominant-baseline="central" fill="#000" stroke="#000" stroke-width="0.2">23</text>
<text x="372.4" y="350.9" transform="rotate(20 372.4 350.9)" font-family="Liberation Sans, sans-serif" font-size="12" text-anchor="middle" dominant-baseline="central" fill="#000" stroke="#000" stroke-width="0.2">22</text>
<text x="545.2" y="226.7" transform="rotate(80 545.2 226.7)" font-family="Liberation Sans, sans-serif" font-size="12" text-anchor="middle" dominant-baseline="central" fill="#000" stroke="#000" stroke-width="0.2">23</text>
<text x="401.6" y="100.8" transform="rotate(70 401.6 100.8)" font-family="Liberation Sans, sans-serif" font-size="12" text-anchor="middle" dominant-baseline="central" fill="#000" stroke="#000" stroke-width="0.2">0</text>
<text x="388.6" y="473.7" transform="rotate(-15 388.6 473.7)" font-family="Liberation Sans, sans-serif" font-size="12" text-anchor="middle" dominant-baseline="central" fill="#000" stroke="#000" stroke-width="0.2">C</text>
</g>
<rect x="217" y="75" width="1" height="525" fill="#000"/>
<rect x="354" y="75" width="1" height="525" fill="#000"/>
<rect x="491" y="75" width="1" height="525" fill="#000"/>
<rect x="79" y="250" width="496" height="1" fill="#000"/>
<rect x="79" y="424" width="496" height="1" fill="#000"/>
<rect x="78" y="73" width="498" height="4" fill="#000"/>
<rect x="78" y="599" width="498" height="3" fill="#000"/>
<rect x="78" y="73" width="3" height="529" fill="#000"/>
<rect x="573" y="73" width="3" height="529" fill="#000"/>
<rect x="81" y="74" width="67.5" height="1" fill="#fff"/>
<rect x="81" y="600" width="67.5" height="1" fill="#fff"/>
<rect x="217" y="74" width="68.5" height="1" fill="#fff"/>
<rect x="217" y="600" width="68.5" height="1" fill="#fff"/>
<rect x="354" y="74" width="68.5" height="1" fill="#fff"/>
<rect x="354" y="600" width="68.5" height="1" fill="#fff"/>
<rect x="491" y="74" width="68.5" height="1" fill="#fff"/>
<rect x="491" y="600" width="68.5" height="1" fill="#fff"/>
<rect x="79" y="163" width="1" height="87" fill="#fff"/>
<rect x="574" y="163" width="1" height="87" fill="#fff"/>
<rect x="79" y="337" width="1" height="87" fill="#fff"/>
<rect x="574" y="337" width="1" height="87" fill="#fff"/>
<rect x="79" y="511" width="1" height="88" fill="#fff"/>
<rect x="574" y="511" width="1" height="88" fill="#fff"/>
<rect x="79" y="74" width="1" height="1" fill="#fff"/>
<rect x="574" y="74" width="1" height="1" fill="#fff"/>
<rect x="79" y="600" width="1" height="1" fill="#fff"/>
<rect x="574" y="600" width="1" height="1" fill="#fff"/>
<path d="M592.5,77 L598.8,70.3 L605.3,77 L605.3,599.5 L598.8,606.3 L592.5,599.5 Z" fill="url(#cb)" stroke="#000" stroke-width="1"/>
<text x="610" y="604.3" font-family="Liberation Sans, sans-serif" font-style="italic" stroke="#000" stroke-width="0.45" font-size="13" fill="#000">0</text>
<text x="610" y="517.2" font-family="Liberation Sans, sans-serif" font-style="italic" stroke="#000" stroke-width="0.45" font-size="13" fill="#000">5</text>
<text x="610" y="430.1" font-family="Liberation Sans, sans-serif" font-style="italic" stroke="#000" stroke-width="0.45" font-size="13" fill="#000">10</text>
<text x="610" y="343.0" font-family="Liberation Sans, sans-serif" font-style="italic" stroke="#000" stroke-width="0.45" font-size="13" fill="#000">15</text>
<text x="610" y="255.9" font-family="Liberation Sans, sans-serif" font-style="italic" stroke="#000" stroke-width="0.45" font-size="13" fill="#000">20</text>
<text x="610" y="168.8" font-family="Liberation Sans, sans-serif" font-style="italic" stroke="#000" stroke-width="0.45" font-size="13" fill="#000">25</text>
<text x="610" y="81.7" font-family="Liberation Sans, sans-serif" font-style="italic" stroke="#000" stroke-width="0.45" font-size="13" fill="#000">30</text>
<text x="74" y="81.2" font-family="Liberation Sans, sans-serif" font-style="italic" stroke="#000" stroke-width="0.45" font-size="13" text-anchor="end" fill="#000">39°N</text>
<text x="74" y="255.5" font-family="Liberation Sans, sans-serif" font-style="italic" stroke="#000" stroke-width="0.45" font-size="13" text-anchor="end" fill="#000">38.5°N</text>
<text x="74" y="429.9" font-family="Liberation Sans, sans-serif" font-style="italic" stroke="#000" stroke-width="0.45" font-size="13" text-anchor="end" fill="#000">38°N</text>
<text x="74" y="604.6" font-family="Liberation Sans, sans-serif" font-style="italic" stroke="#000" stroke-width="0.45" font-size="13" text-anchor="end" fill="#000">37.5°N</text>
<text x="80" y="619" font-family="Liberation Sans, sans-serif" font-style="italic" stroke="#000" stroke-width="0.45" font-size="13" text-anchor="middle" fill="#000">140.5°E</text>
<text x="217" y="619" font-family="Liberation Sans, sans-serif" font-style="italic" stroke="#000" stroke-width="0.45" font-size="13" text-anchor="middle" fill="#000">141°E</text>
<text x="354" y="619" font-family="Liberation Sans, sans-serif" font-style="italic" stroke="#000" stroke-width="0.45" font-size="13" text-anchor="middle" fill="#000">141.5°E</text>
<text x="491" y="619" font-family="Liberation Sans, sans-serif" font-style="italic" stroke="#000" stroke-width="0.45" font-size="13" text-anchor="middle" fill="#000">142°E</text>
<text x="327.7" y="55" font-family="Liberation Sans, sans-serif" font-style="italic" font-weight="bold" font-size="20" text-anchor="middle" fill="#000">Temperture[-C] @ Depth[m]=Top</text>
<text x="82.5" y="592.3" font-family="Liberation Sans, sans-serif" font-style="italic" font-size="19.5" fill="#fff" stroke="#fff" stroke-width="0.6">20160926</text>
<text transform="translate(587.5 598.3) rotate(-90)" font-family="Liberation Sans, sans-serif" font-style="italic" font-weight="bold" font-size="10" textLength="85" lengthAdjust="spacing" fill="#000">Ocean Data View</text>
</svg>
</body></html>
